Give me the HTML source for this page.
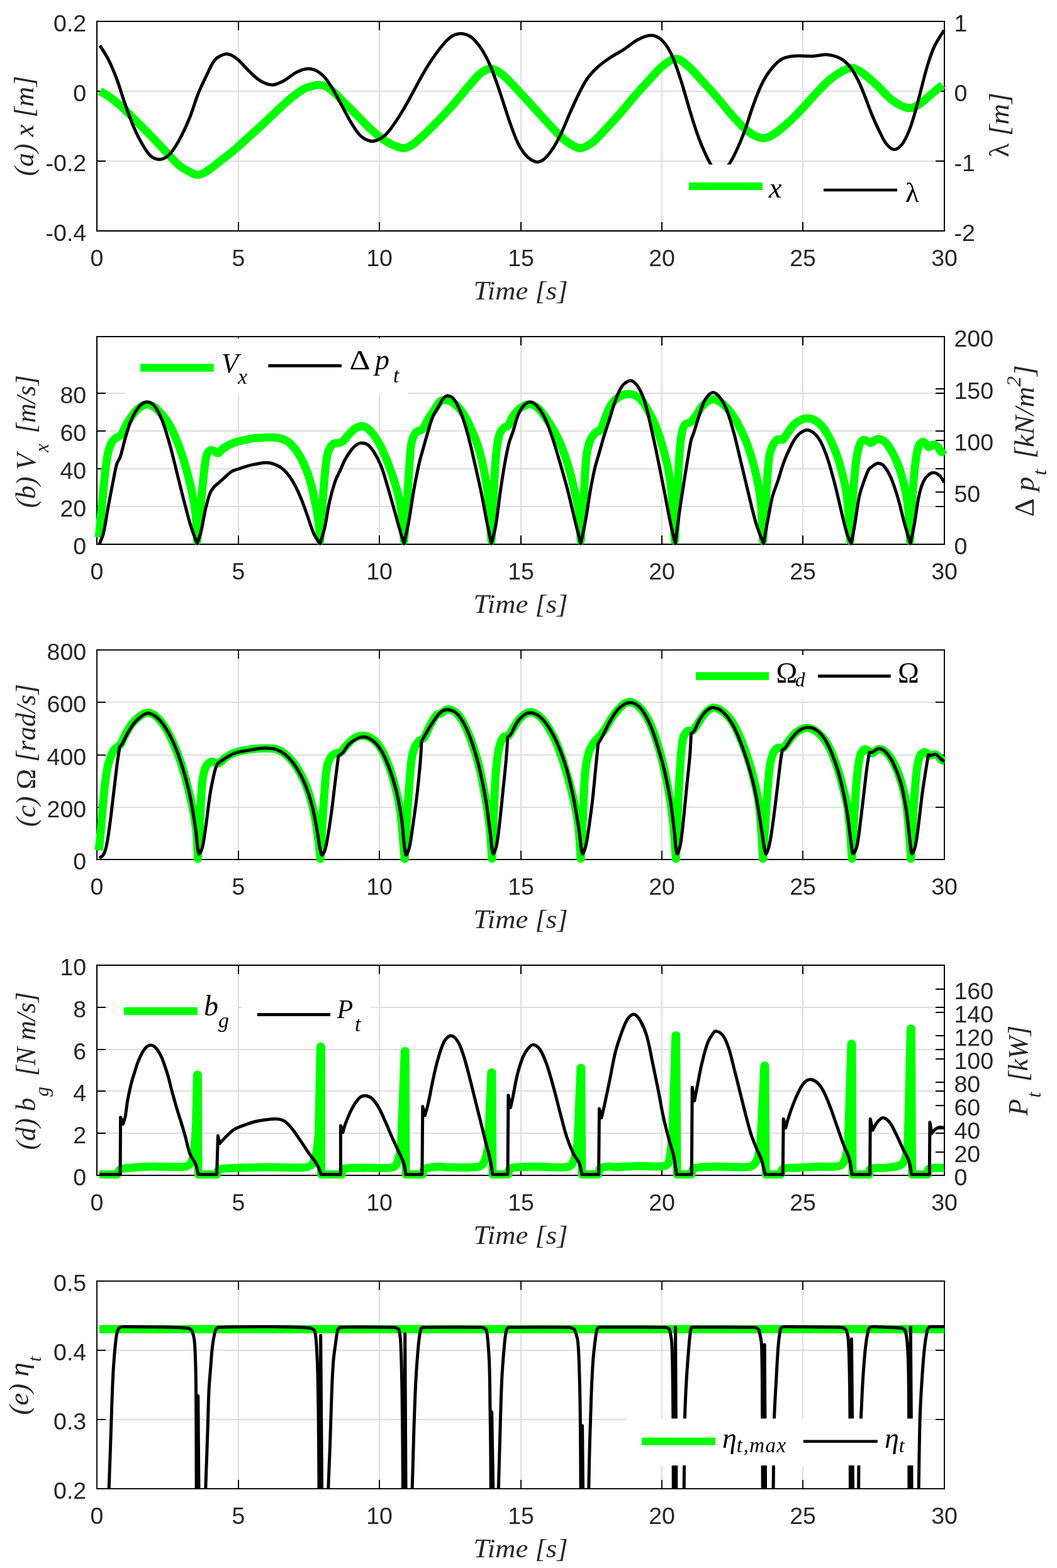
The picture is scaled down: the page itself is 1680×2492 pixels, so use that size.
<!DOCTYPE html>
<html><head><meta charset="utf-8"><title>Figure</title>
<style>
html,body{margin:0;padding:0;background:#fff;overflow:hidden;width:1680px;height:2492px;}
svg{display:block;}
</style></head><body>
<svg width="1680" height="2492" viewBox="0 0 1680 2492">
<rect x="0" y="0" width="1680" height="2492" fill="#fff"/>
<line x1="379" y1="34" x2="379" y2="367" stroke="#dedede" stroke-width="2"/>
<line x1="603" y1="34" x2="603" y2="367" stroke="#dedede" stroke-width="2"/>
<line x1="828" y1="34" x2="828" y2="367" stroke="#dedede" stroke-width="2"/>
<line x1="1052" y1="34" x2="1052" y2="367" stroke="#dedede" stroke-width="2"/>
<line x1="1276" y1="34" x2="1276" y2="367" stroke="#dedede" stroke-width="2"/>
<line x1="154" y1="145" x2="1501" y2="145" stroke="#dedede" stroke-width="2"/>
<line x1="154" y1="256" x2="1501" y2="256" stroke="#dedede" stroke-width="2"/>
<path d="M154 367 V353 M154 34 V48 M379 367 V353 M379 34 V48 M603 367 V353 M603 34 V48 M828 367 V353 M828 34 V48 M1052 367 V353 M1052 34 V48 M1276 367 V353 M1276 34 V48 M1501 367 V353 M1501 34 V48 M154 34 H168 M1501 34 H1487 M154 145 H168 M1501 145 H1487 M154 256 H168 M1501 256 H1487 M154 367 H168 M1501 367 H1487 M1501 34 H1487 M1501 145 H1487 M1501 256 H1487 M1501 367 H1487" stroke="#000" stroke-width="2" fill="none"/>
<rect x="154" y="34" width="1347" height="333" stroke="#000" stroke-width="2" fill="none"/>
<text x="137.2" y="49.9" font-size="37.5" text-anchor="end" style="font-family:'Liberation Sans', Arial, sans-serif;" fill="#262626" >0.2</text>
<text x="137.2" y="160.9" font-size="37.5" text-anchor="end" style="font-family:'Liberation Sans', Arial, sans-serif;" fill="#262626" >0</text>
<text x="137.2" y="271.9" font-size="37.5" text-anchor="end" style="font-family:'Liberation Sans', Arial, sans-serif;" fill="#262626" >-0.2</text>
<text x="137.2" y="382.9" font-size="37.5" text-anchor="end" style="font-family:'Liberation Sans', Arial, sans-serif;" fill="#262626" >-0.4</text>
<text x="1516.5" y="49.9" font-size="37.5" text-anchor="start" style="font-family:'Liberation Sans', Arial, sans-serif;" fill="#262626" >1</text>
<text x="1516.5" y="160.9" font-size="37.5" text-anchor="start" style="font-family:'Liberation Sans', Arial, sans-serif;" fill="#262626" >0</text>
<text x="1516.5" y="271.9" font-size="37.5" text-anchor="start" style="font-family:'Liberation Sans', Arial, sans-serif;" fill="#262626" >-1</text>
<text x="1516.5" y="382.9" font-size="37.5" text-anchor="start" style="font-family:'Liberation Sans', Arial, sans-serif;" fill="#262626" >-2</text>
<text x="154" y="423.3" font-size="37.5" text-anchor="middle" style="font-family:'Liberation Sans', Arial, sans-serif;" fill="#262626" >0</text>
<text x="379" y="423.3" font-size="37.5" text-anchor="middle" style="font-family:'Liberation Sans', Arial, sans-serif;" fill="#262626" >5</text>
<text x="603" y="423.3" font-size="37.5" text-anchor="middle" style="font-family:'Liberation Sans', Arial, sans-serif;" fill="#262626" >10</text>
<text x="828" y="423.3" font-size="37.5" text-anchor="middle" style="font-family:'Liberation Sans', Arial, sans-serif;" fill="#262626" >15</text>
<text x="1052" y="423.3" font-size="37.5" text-anchor="middle" style="font-family:'Liberation Sans', Arial, sans-serif;" fill="#262626" >20</text>
<text x="1276" y="423.3" font-size="37.5" text-anchor="middle" style="font-family:'Liberation Sans', Arial, sans-serif;" fill="#262626" >25</text>
<text x="1501" y="423.3" font-size="37.5" text-anchor="middle" style="font-family:'Liberation Sans', Arial, sans-serif;" fill="#262626" >30</text>
<text x="827.5" y="476.4" font-size="42.5" text-anchor="middle" textLength="150" lengthAdjust="spacingAndGlyphs" style="font-family:'Liberation Serif',serif;font-style:italic" fill="#262626">Time [s]</text>
<clipPath id="clipa"><rect x="150" y="20" width="1370" height="241.6"/><rect x="150" y="20" width="940" height="360"/><rect x="1200" y="20" width="320" height="360"/></clipPath>
<path d="M158.9 145 C163.4 147.6 168.1 149.8 172.3 152.8 C180 158.3 187.5 164.3 194.6 170.6 C202.4 177.7 209.5 185.5 217 193 C224.4 200.4 232 207.8 239.3 215.3 C246.8 223 254.2 230.9 261.6 238.7 C269 246.5 275.8 255.1 283.9 262.1 C289.2 266.7 295.6 270.1 301.8 273.3 C305.7 275.3 310 278 314.1 277.8 C318.9 277.6 324.2 274.9 328.6 272.2 C336.5 267.4 343.5 261.1 350.9 255.4 C358.4 249.6 366 243.8 373.2 237.6 C380.8 231.1 388.1 224.2 395.5 217.5 C403 210.8 410.5 204.2 417.9 197.4 C425.4 190.4 432.7 183.2 440.2 176.2 C447.5 169.4 454.8 162.5 462.5 156.1 C468.2 151.3 474.2 146.7 480.4 142.7 C483.3 140.8 486.7 139.4 490 138.5 C495.8 136.8 502 134.6 507.9 134.9 C513.2 135.2 519.1 137.4 523.5 140.5 C531.7 146.3 538.5 154.5 545.8 161.7 C553.3 169 560.7 176.6 568.1 184 C575.5 191.4 582.6 199.3 590.4 206.3 C597.5 212.7 604.9 218.9 612.8 224.2 C617.6 227.4 623 230 628.4 232 C633 233.7 638.2 235.9 642.9 235.4 C647.9 234.8 653.1 231.8 657.4 228.7 C665.4 222.9 672.4 215.5 679.7 208.6 C687.3 201.4 694.7 193.9 702 186.3 C709.6 178.3 717.1 170.1 724.4 161.7 C732 152.9 739 143.6 746.7 134.9 C752.4 128.4 757.8 121.1 764.6 115.9 C769 112.5 775.1 108.8 780.2 109.2 C786.2 109.6 792.8 114.2 798 118.2 C806.2 124.6 813.1 132.9 820.4 140.5 C827.1 147.4 833.5 154.6 840 161.7 C844.1 166.2 848.2 170.6 852.3 175.1 C859.7 183.3 867 191.6 874.6 199.6 C881.9 207.2 888.7 215.7 897 222 C904.3 227.6 913.2 234.6 921.5 235.4 C928.1 236 935.8 230.7 941.6 226.4 C949.9 220.3 956.6 211.7 963.9 204.1 C971.5 196.1 979 187.9 986.2 179.6 C993.9 170.8 1001 161.6 1008.6 152.8 C1015.9 144.4 1023.4 136.3 1030.9 128.2 C1038.2 120.3 1044.9 111.4 1053.2 104.8 C1059.4 99.9 1067.4 93.6 1074.4 93.6 C1080.8 93.6 1087.8 100.1 1093.4 104.8 C1101.6 111.7 1108.4 120.3 1115.7 128.2 C1123.2 136.3 1130.7 144.5 1138 152.8 C1145.6 161.6 1152.7 170.9 1160.4 179.6 C1167.8 188 1175.2 196.5 1183.4 204.1 C1188.1 208.4 1193.4 212.5 1199 215.3 C1203.8 217.7 1209.5 220.1 1214.6 219.7 C1220 219.3 1225.6 216.1 1230.3 213 C1238.2 207.9 1245.5 201.5 1252.6 195.2 C1260.4 188.2 1267.7 180.5 1274.9 172.9 C1282.5 164.9 1289.6 156.3 1297.2 148.3 C1304.5 140.7 1311.6 132.8 1319.6 126 C1325.7 120.9 1332.5 116.2 1339.6 112.6 C1344.4 110.2 1350.3 107.6 1355.3 108.1 C1360.7 108.7 1366.2 112.6 1370.9 115.9 C1378.8 121.5 1386 128.3 1393.2 134.9 C1400.9 142 1407.5 150.5 1415.5 157.2 C1420.9 161.7 1427.1 165.5 1433.4 168.4 C1437.5 170.3 1442.4 172.1 1446.8 171.7 C1451.4 171.3 1456.2 168.8 1460.2 166.2 C1466.6 162.1 1472.1 156.6 1478 151.7 C1484.7 146.1 1491.4 140.5 1498.1 134.9" stroke="#00ff00" stroke-width="13" fill="none" stroke-linejoin="round" />
<path d="M158.9 72.4 C163.4 79.8 168.4 87 172.3 94.7 C177.4 104.8 181.7 115.4 185.7 126 C190.7 139.2 194.4 152.9 199.1 166.2 C203.3 178.2 207.5 190.2 212.5 201.9 C216.4 211.1 220.9 220.1 225.9 228.7 C229.8 235.3 233.7 242.7 239.3 247.6 C243 250.9 249 253.4 253.8 253.2 C258.7 253 264.6 250.1 268.3 246.5 C274.6 240.4 279.5 232.1 283.9 224.2 C290.7 212 296.5 199.1 301.8 186.2 C306.9 173.8 310.2 160.7 315.2 148.3 C319.2 138.4 323.8 128.8 328.6 119.3 C332.8 111 335.9 101.2 342 94.7 C346.3 90.1 353.8 86.2 359.8 85.8 C364.9 85.5 371 89.2 375.4 92.5 C382.9 98.1 388.6 106.1 395.5 112.6 C401.3 118 406.7 124.2 413.4 128.2 C419 131.6 426.1 134.9 432.4 134.9 C438.7 134.9 445.4 131.2 451.3 128.2 C458.4 124.5 464.3 118.4 471.4 114.8 C476.9 112 483.3 109.6 489.3 109.2 C494 108.9 499.2 110.4 503.4 112.6 C508.4 115.3 513 119.4 516.8 123.8 C522 129.8 526.1 136.9 530.2 143.8 C535 151.8 539.1 160.2 543.6 168.4 C548.1 176.6 552.2 185 557 193 C561.1 199.9 565.4 206.8 570.4 213 C572.8 216 575.9 218.7 579.3 220.5 C583 222.5 587.5 224.3 591.6 224.4 C595.7 224.4 600.1 222.8 603.8 220.8 C607.9 218.6 611.7 215.3 615 211.9 C618.8 208 621.8 203.4 625 199 C628.5 194.1 631.9 189.1 635.1 184 C640.5 175.2 645.7 166.2 650.7 157.2 C656.1 147.6 660.9 137.8 666.3 128.2 C671.4 119.2 676.3 110.1 682 101.4 C688.2 91.8 694.8 82.3 702 73.5 C706.7 67.8 711.7 61.8 717.7 57.9 C722.1 55.1 728.2 53.2 733.3 53.4 C738.6 53.6 744.6 55.8 748.9 59 C755.1 63.6 760.1 70.4 764.6 76.9 C769.8 84.5 774 93 777.9 101.4 C782.2 110.8 785.6 120.6 789.1 130.4 C793.1 141.5 796.6 152.7 800.3 163.9 C804 175.1 807.4 186.3 811.4 197.4 C814.9 207.2 818.3 217 822.6 226.4 C825 231.7 828.1 236.8 831.5 241.5 C834.3 245.3 837.5 249.1 841.2 251.8 C844.8 254.4 849.3 257.3 853.4 257.4 C857.5 257.4 862.4 254.9 865.7 252.1 C871 247.6 875.2 241.4 879.1 235.4 C884.2 227.6 888.5 219.2 892.5 210.8 C897.4 200.6 901.3 189.9 905.9 179.6 C910.2 169.8 914.5 160 919.3 150.5 C923.5 142.2 927.5 133.6 932.7 126 C937.1 119.5 942.6 113.5 948.3 108.1 C954.5 102.3 961.4 97.3 968.4 92.5 C975.5 87.6 983.4 83.8 990.7 79.1 C998.3 74.2 1005.1 67.8 1013 63.5 C1019.2 60.2 1026.4 56.7 1033.1 56.3 C1038.3 56 1044.5 58.2 1048.8 61.2 C1054.1 65.1 1058.6 71.1 1062.1 76.9 C1066.7 84.5 1070.1 93 1073.3 101.4 C1077.5 112.4 1081 123.7 1084.5 134.9 C1088.4 147.5 1091.8 160.3 1095.6 172.9 C1099.2 184.8 1102.7 196.8 1106.8 208.6 C1110.2 218.4 1113.8 228.1 1118 237.6 C1121.6 245.9 1125.3 254.4 1130.2 262 C1134 267.9 1139.4 278 1144 278 C1148.7 278 1154 267.8 1158.1 262 C1162.5 255.8 1166 248.9 1169.3 242 C1174.5 231.1 1179.2 219.9 1183.4 208.6 C1188.3 195.4 1192 181.7 1196.8 168.4 C1200.9 157.1 1205 145.7 1210.2 134.9 C1213.9 127.1 1218.3 119.4 1223.6 112.6 C1228.7 106 1234.6 99.2 1241.4 94.7 C1246.5 91.4 1253.2 89.9 1259.3 89.2 C1270.3 88 1281.7 89.7 1292.8 89.2 C1300.3 88.9 1307.8 86.3 1315.1 86.9 C1321.9 87.4 1329.2 89.3 1335.2 92.5 C1341.1 95.6 1346.5 100.6 1350.8 105.9 C1356.2 112.5 1360.3 120.5 1364.2 128.2 C1368.5 136.8 1371.8 146 1375.4 155 C1379.2 164.6 1382.5 174.4 1386.5 184 C1390 192.3 1393.7 200.5 1397.7 208.6 C1401.1 215.4 1404.1 222.9 1408.8 228.7 C1411.9 232.5 1416.9 237.4 1421.1 237.6 C1425.1 237.8 1430.4 233.5 1433.4 229.8 C1438.3 223.8 1441.5 215.9 1444.6 208.6 C1448.2 199.9 1450.8 190.8 1453.5 181.8 C1456.8 170.7 1459.4 159.5 1462.4 148.3 C1466.1 134.2 1469.4 119.9 1473.6 105.9 C1476.8 95.3 1480.1 84.6 1484.7 74.6 C1489 65.3 1495.2 56.8 1500.4 47.9" stroke="#000" stroke-width="5" fill="none" stroke-linejoin="round" clip-path="url(#clipa)"/>
<line x1="1095" y1="296" x2="1212" y2="296" stroke="#00ff00" stroke-width="12"/>
<text x="1222" y="313.5" font-size="46" text-anchor="start" style="font-family:'Liberation Serif', 'Times New Roman', serif;font-style:italic;" fill="#000" >x</text>
<line x1="1309" y1="302" x2="1426" y2="302" stroke="#000" stroke-width="4.6"/>
<text x="1439" y="321" font-size="45" text-anchor="start" style="font-family:'Liberation Serif', 'Times New Roman', serif;" fill="#000" >λ</text>
<text transform="translate(52.6,200.2) rotate(-90)" font-size="44" text-anchor="middle" textLength="159" lengthAdjust="spacingAndGlyphs" style="font-family:'Liberation Serif',serif;font-style:italic" fill="#262626">(a) x [m]</text>
<text transform="translate(1603,198.5) rotate(-90)" font-size="44" text-anchor="middle" textLength="103" lengthAdjust="spacingAndGlyphs" style="font-family:'Liberation Serif',serif;font-style:italic" fill="#262626"><tspan style="font-style:normal">λ</tspan> [m]</text>
<line x1="379" y1="535" x2="379" y2="865" stroke="#dedede" stroke-width="2"/>
<line x1="603" y1="535" x2="603" y2="865" stroke="#dedede" stroke-width="2"/>
<line x1="828" y1="535" x2="828" y2="865" stroke="#dedede" stroke-width="2"/>
<line x1="1052" y1="535" x2="1052" y2="865" stroke="#dedede" stroke-width="2"/>
<line x1="1276" y1="535" x2="1276" y2="865" stroke="#dedede" stroke-width="2"/>
<line x1="154" y1="805" x2="1501" y2="805" stroke="#dedede" stroke-width="2"/>
<line x1="154" y1="745" x2="1501" y2="745" stroke="#dedede" stroke-width="2"/>
<line x1="154" y1="685" x2="1501" y2="685" stroke="#dedede" stroke-width="2"/>
<line x1="154" y1="625" x2="1501" y2="625" stroke="#dedede" stroke-width="2"/>
<path d="M154 865 V851 M154 535 V549 M379 865 V851 M379 535 V549 M603 865 V851 M603 535 V549 M828 865 V851 M828 535 V549 M1052 865 V851 M1052 535 V549 M1276 865 V851 M1276 535 V549 M1501 865 V851 M1501 535 V549 M154 865 H168 M1501 865 H1487 M154 805 H168 M1501 805 H1487 M154 745 H168 M1501 745 H1487 M154 685 H168 M1501 685 H1487 M154 625 H168 M1501 625 H1487 M1501 865 H1487 M1501 782 H1487 M1501 700 H1487 M1501 618 H1487 M1501 535 H1487" stroke="#000" stroke-width="2" fill="none"/>
<rect x="154" y="535" width="1347" height="330" stroke="#000" stroke-width="2" fill="none"/>
<text x="137.2" y="880.9" font-size="37.5" text-anchor="end" style="font-family:'Liberation Sans', Arial, sans-serif;" fill="#262626" >0</text>
<text x="137.2" y="820.9" font-size="37.5" text-anchor="end" style="font-family:'Liberation Sans', Arial, sans-serif;" fill="#262626" >20</text>
<text x="137.2" y="760.9" font-size="37.5" text-anchor="end" style="font-family:'Liberation Sans', Arial, sans-serif;" fill="#262626" >40</text>
<text x="137.2" y="700.9" font-size="37.5" text-anchor="end" style="font-family:'Liberation Sans', Arial, sans-serif;" fill="#262626" >60</text>
<text x="137.2" y="640.9" font-size="37.5" text-anchor="end" style="font-family:'Liberation Sans', Arial, sans-serif;" fill="#262626" >80</text>
<text x="1516.5" y="880.9" font-size="37.5" text-anchor="start" style="font-family:'Liberation Sans', Arial, sans-serif;" fill="#262626" >0</text>
<text x="1516.5" y="797.9" font-size="37.5" text-anchor="start" style="font-family:'Liberation Sans', Arial, sans-serif;" fill="#262626" >50</text>
<text x="1516.5" y="715.9" font-size="37.5" text-anchor="start" style="font-family:'Liberation Sans', Arial, sans-serif;" fill="#262626" >100</text>
<text x="1516.5" y="633.9" font-size="37.5" text-anchor="start" style="font-family:'Liberation Sans', Arial, sans-serif;" fill="#262626" >150</text>
<text x="1516.5" y="550.9" font-size="37.5" text-anchor="start" style="font-family:'Liberation Sans', Arial, sans-serif;" fill="#262626" >200</text>
<text x="154" y="921.3" font-size="37.5" text-anchor="middle" style="font-family:'Liberation Sans', Arial, sans-serif;" fill="#262626" >0</text>
<text x="379" y="921.3" font-size="37.5" text-anchor="middle" style="font-family:'Liberation Sans', Arial, sans-serif;" fill="#262626" >5</text>
<text x="603" y="921.3" font-size="37.5" text-anchor="middle" style="font-family:'Liberation Sans', Arial, sans-serif;" fill="#262626" >10</text>
<text x="828" y="921.3" font-size="37.5" text-anchor="middle" style="font-family:'Liberation Sans', Arial, sans-serif;" fill="#262626" >15</text>
<text x="1052" y="921.3" font-size="37.5" text-anchor="middle" style="font-family:'Liberation Sans', Arial, sans-serif;" fill="#262626" >20</text>
<text x="1276" y="921.3" font-size="37.5" text-anchor="middle" style="font-family:'Liberation Sans', Arial, sans-serif;" fill="#262626" >25</text>
<text x="1501" y="921.3" font-size="37.5" text-anchor="middle" style="font-family:'Liberation Sans', Arial, sans-serif;" fill="#262626" >30</text>
<text x="827.5" y="974.4" font-size="42.5" text-anchor="middle" textLength="150" lengthAdjust="spacingAndGlyphs" style="font-family:'Liberation Serif',serif;font-style:italic" fill="#262626">Time [s]</text>
<path d="M157.1 854.1 C158.9 835.4 160.7 816.6 162.5 797.9 C164.3 780 165.7 762.1 167.9 744.3 C169 735.3 170.1 726.2 172.3 717.5 C173.7 711.9 175.7 706.2 178.6 701.4 C180.2 698.8 183.2 697.1 185.7 695.2 C188 693.5 191.2 692.9 192.9 690.7 C196 686.6 197.4 681 200 676.4 C202.7 671.5 205.6 666.6 208.9 662.1 C212.1 657.7 215.4 653 219.6 649.6 C223.5 646.5 228.4 642.8 233 642.5 C237.4 642.2 242.5 645.3 246.4 647.9 C250.5 650.6 253.8 654.8 257.1 658.6 C261 663.1 264.8 667.8 267.9 672.9 C272 679.7 275.5 687 278.6 694.3 C282.6 703.6 286.1 713.2 289.3 722.9 C292.6 732.9 295.5 743 298.2 753.2 C300.9 763.3 303.4 773.4 305.4 783.6 C307.5 794.2 309.6 804.9 310.7 815.7 C312.2 830.2 313.4 859.5 313.4 859.5 C313.4 859.5 317.5 818.4 319.6 797.9 C321.4 780 322.9 762.1 325 744.3 C325.9 737.1 326.5 729.6 328.6 722.9 C329.5 720.1 331.7 716.9 334 715.7 C335.6 714.8 338.3 715.9 340.2 716.6 C342.4 717.4 344.5 720.8 346.4 720.2 C349.6 719.3 352 714.2 355.4 712.1 C361 708.6 367 705.5 373.2 703.2 C378.9 701.1 385.1 699.9 391.1 698.8 C397 697.6 402.9 696.5 408.9 696.1 C418.5 695.4 428.4 694.5 437.9 695.5 C444 696.1 450.6 697.7 455.7 700.8 C461.3 704.2 466 709.6 470 714.9 C474.9 721.4 479 728.8 482.5 736.3 C486.8 745.6 490.3 755.3 493.2 765.1 C496.2 775.2 498.2 785.6 500.4 795.9 C502.4 805.4 504.4 815 505.7 824.6 C507.2 836.2 508.8 859.5 508.8 859.5 C508.8 859.5 511.4 818.4 512.9 797.9 C514.2 780 515.3 762.1 517.3 744.3 C518.3 735.3 519.2 726 521.8 717.5 C523.1 713.2 525.7 708.6 528.9 705.9 C531.1 704.1 535 704.9 537.9 704.1 C540.3 703.4 543.1 703 545 701.4 C549.1 697.9 551.9 692.9 555.7 688.9 C558.5 686 561.3 683 564.6 680.9 C567.5 679.1 571.2 677.3 574.5 677.3 C577.8 677.3 581.6 678.9 584.3 680.9 C588.4 683.9 591.9 688.3 595 692.5 C599.1 698.1 602.6 704.2 605.7 710.4 C609.7 718.5 613.1 727 616.4 735.4 C620.3 745.4 624 755.4 627.1 765.7 C630.6 777.4 634.1 789.3 636.1 801.4 C639.2 820.6 642.3 859.5 642.3 859.5 C642.3 859.5 645.4 818.4 646.8 797.9 C648.1 780 649 762.2 650.4 744.3 C651.4 731.2 651.5 717.8 653.9 705 C655.1 698.7 657.4 691.9 661.1 687.1 C663.4 684.1 669.2 684.6 671.8 681.8 C675.8 677.5 677.5 670.9 680.7 665.7 C684 660.2 687.7 654.9 691.4 649.6 C694.4 645.3 696.8 639.8 700.7 637.1 C703.4 635.3 708.1 635.2 711.4 636.1 C716.4 637.6 721.7 640.7 725.7 644.3 C730.6 648.8 734.6 654.6 738.2 660.4 C742.4 667.1 745.7 674.5 748.9 681.8 C752.8 690.6 756.7 699.4 759.6 708.6 C763.3 720.3 766.2 732.3 768.6 744.3 C771.6 759 774.1 773.9 775.7 788.9 C778.2 812.3 781.1 859.5 781.1 859.5 C781.1 859.5 783.3 812.4 784.6 788.9 C785.7 768.1 786.3 747.2 788.2 726.4 C789.3 714.4 790.5 702.1 793.6 690.7 C794.7 686.6 797.8 682.9 800.7 680 C802.5 678.2 806.3 678.4 807.9 676.4 C811.1 672.4 812.1 666.5 815 662.1 C818 657.6 821.4 652.8 825.7 649.6 C830.3 646.2 836.5 642.5 841.8 642.5 C846.6 642.5 852.2 646.2 856.1 649.6 C861.1 653.9 864.7 660.1 868.6 665.7 C873 672.1 877.4 678.6 881.1 685.4 C885.8 694 890 703 893.6 712.1 C897.7 722.6 901.2 733.4 904.3 744.3 C907.7 756.1 910.5 768 913.2 780 C915.9 791.8 918.9 803.7 920.4 815.7 C922.2 830.2 923 859.5 923 859.5 C923 859.5 926.1 818.4 927.5 797.9 C929.1 774.1 929.4 750.1 932 726.4 C932.9 717.3 935 708 938.2 699.6 C940 694.9 943.6 690.6 947.1 687.1 C948.9 685.3 952.9 685.7 954.3 683.6 C957.7 678.6 958.9 671.6 961.4 665.7 C964.4 658.5 966.5 650.7 970.7 644.3 C974.4 638.8 979.4 633.2 985 630 C989.8 627.2 996.5 625.8 1002 626.4 C1007.2 627 1013.1 630 1017.1 633.6 C1022.3 638.3 1026 645.2 1029.6 651.4 C1034.3 659.4 1038.6 667.8 1042.1 676.4 C1046.4 686.9 1049.7 697.7 1052.9 708.6 C1056.3 720.4 1059.4 732.3 1061.8 744.3 C1064.1 756.1 1066 768 1067.1 780 C1069.6 806.4 1072.5 859.5 1072.5 859.5 C1072.5 859.5 1075 818.4 1076.1 797.9 C1077.4 774.1 1078 750.2 1079.6 726.4 C1080.4 714.5 1081.2 702.4 1083.2 690.7 C1084.2 685.2 1085.6 678.8 1088.6 674.6 C1090.3 672.2 1095.1 673 1097.5 671.1 C1101 668.3 1103.7 664.1 1106.4 660.4 C1110.2 655.2 1112.6 648.7 1117.1 644.3 C1121.5 640 1127.7 634.8 1133.2 634.5 C1138.4 634.2 1144.7 638.8 1149.3 642.5 C1154.8 646.9 1159.4 652.8 1163.6 658.6 C1168.4 665.3 1172.4 672.6 1176.1 680 C1180.7 689.3 1185.1 698.8 1188.6 708.6 C1192.8 720.3 1196.4 732.2 1199.3 744.3 C1202.9 759 1206.5 773.9 1208.2 788.9 C1210.9 812.3 1212.7 859.5 1212.7 859.5 C1212.7 859.5 1215.6 818.4 1217.1 797.9 C1218.9 774.1 1219.6 750 1222.5 726.4 C1223.2 720.3 1225.5 714.3 1227.9 708.6 C1229.2 705.5 1231.2 702.3 1233.6 700 C1234.9 698.7 1237.1 698.1 1238.9 697.9 C1240.6 697.7 1243 699.7 1244.3 698.8 C1247.2 696.7 1249 692.2 1251.4 688.9 C1254.9 684.1 1257.9 678.7 1262.1 674.6 C1265.1 671.6 1269.1 669.3 1272.9 667.5 C1275.9 666.1 1279.4 664.7 1282.7 664.8 C1287.2 665 1292.2 666.1 1296.1 668.4 C1300.9 671.2 1305.1 675.6 1308.6 680 C1312.9 685.4 1316.2 691.7 1319.3 697.9 C1323.3 706 1327 714.4 1330 722.9 C1333.5 732.8 1336.4 743 1338.9 753.2 C1341.8 765 1344.7 776.9 1346.1 788.9 C1348.9 812.3 1351.4 859.5 1351.4 859.5 C1351.4 859.5 1353.5 818.4 1355 797.9 C1356.5 777 1357.9 756.1 1360.4 735.4 C1361.5 726.4 1363.1 717.2 1365.7 708.6 C1366.7 705.3 1368.6 701.2 1371.1 699.6 C1372.8 698.5 1376 699.7 1378.2 700.5 C1380.2 701.2 1381.8 704.2 1383.6 704.1 C1386 703.9 1388.2 700.7 1390.7 699.6 C1392.9 698.6 1395.6 697.5 1397.9 697.9 C1401 698.4 1404.5 700 1406.8 702.3 C1411.1 706.6 1414.5 712.1 1417.5 717.5 C1421.6 724.9 1425.3 732.7 1428.2 740.7 C1431.8 750.6 1434.7 760.8 1437.1 771.1 C1439.8 782.9 1442.1 794.8 1443.4 806.8 C1445.2 824.3 1446.4 859.5 1446.4 859.5 C1446.4 859.5 1448.2 818.4 1449.6 797.9 C1451 777 1452.5 756.1 1455 735.4 C1456.1 726.4 1457.3 716.8 1460.4 708.6 C1461.5 705.8 1465.1 702 1467.5 702.3 C1470.5 702.6 1473.2 709.5 1476.4 710.4 C1478.6 711 1481.2 706.8 1483.6 706.8 C1486 706.8 1488.8 708.7 1490.7 710.4 C1493 712.5 1494.1 717.7 1496.1 718.4 C1497.5 718.9 1499.4 715.5 1501 714" stroke="#00ff00" stroke-width="13" fill="none" stroke-linejoin="round" />
<path d="M158 864.8 C160.1 859.2 162.9 853.7 164.3 847.9 C167.4 835 169 821.7 171.4 808.6 C173.7 796.1 176.1 783.5 178.6 771 C180.9 759.7 182.6 748.1 185.7 737.1 C186.8 733.3 189.8 730.2 191.1 726.4 C194 717.7 195.6 708.5 198.2 699.6 C201 690 203.5 680.4 207.1 671.1 C209.5 664.9 212.6 658.8 216.1 653.2 C218.5 649.3 221.5 645.3 225 642.5 C227.4 640.6 230.9 638.9 233.9 638.9 C236.9 638.9 240.6 640.4 242.9 642.5 C246.6 645.8 249.4 650.5 251.8 655 C255.4 661.8 258.2 669.1 260.7 676.4 C264.7 688.1 268.1 700.1 271.4 712.1 C275.3 726.3 278.5 740.7 282.1 755 C285.7 769.3 289.2 783.6 292.9 797.9 C296.3 811 299.6 824.2 303.6 837.1 C306.4 846.2 313.4 863.9 313.4 863.9 C313.4 863.9 318 851 319.6 844.3 C322.5 832.5 324 820.4 326.8 808.6 C328.8 800.2 330.7 791.6 333.9 783.6 C335.5 779.7 338.4 776.2 341.1 772.9 C342.6 771.1 344.7 769.9 346.4 768.4 C349.4 765.8 352.4 763 355.4 760.4 C359.5 756.8 363.3 752.4 367.9 749.6 C372.2 747 377.3 745.9 382.1 744.3 C388 742.3 393.9 740.3 400 738.9 C406.6 737.4 413.3 735.8 420 735.4 C424.7 735.2 429.9 735.5 434.3 737.1 C440 739.1 445.9 742.1 450.4 746.1 C456 751 460.6 757.5 464.6 763.9 C469.5 771.8 473.4 780.4 477.1 788.9 C481.2 798.2 484.4 807.9 487.9 817.5 C491.6 827.6 494.2 838.2 498.6 847.9 C501.2 853.6 508.8 863.9 508.8 863.9 C508.8 863.9 514.4 846.2 516.4 837.1 C519.3 824.2 520.7 810.8 523.6 797.9 C526 787 528.9 776.2 532.5 765.7 C534.8 758.9 538.5 752.6 541.4 746.1 C543.8 740.7 545.8 735.1 548.6 730 C551.7 724.4 555.3 718.9 559.3 713.9 C561.8 710.8 564.9 707.9 568.2 705.9 C570.3 704.6 573 704 575.4 704.1 C578.4 704.3 581.9 705 584.3 706.8 C588.5 710 592.1 714.7 595 719.3 C599.2 726 602.8 733.3 605.7 740.7 C610 751.7 613 763.3 616.4 774.6 C620.1 787.1 623.6 799.6 627.1 812.1 C630.1 822.8 633 833.6 636.1 844.3 C638 850.9 642.3 863.9 642.3 863.9 C642.3 863.9 648 837.8 650.4 824.6 C653.1 809.8 654.8 794.8 657.5 780 C660.2 765.1 663.1 750.2 666.4 735.4 C667.9 728.8 670 722.3 671.8 715.7 C674.1 707.4 676.4 699 678.9 690.7 C681.8 681.1 684.1 671.3 687.9 662.1 C690.2 656.4 694 651.4 697.1 646.1 C699.5 641.9 701.2 637.1 704.3 633.6 C706.3 631.4 709.7 628.8 712.3 629.1 C715.6 629.4 719.9 632.4 722.1 635.4 C726.7 641.6 730 649.4 732.9 656.8 C737.2 667.8 740.5 679.3 743.6 690.7 C747.6 705.5 750.9 720.5 754.3 735.4 C758 751.4 761.7 767.5 765 783.6 C768.2 799 770.8 814.6 773.9 830 C776.2 841.3 781.1 863.9 781.1 863.9 C781.1 863.9 786.5 843.8 788.2 833.6 C791.2 815.8 792.8 797.8 795.4 780 C797.6 765.1 799.9 750.2 802.5 735.4 C804.3 725.2 806.2 715 808.8 705 C810.3 698.9 813 693.1 815 687.1 C818.1 677.6 820.1 667.7 823.9 658.6 C826.1 653.4 829.1 648.3 832.9 644.3 C835.4 641.7 839.4 638.9 842.7 638.9 C846 638.9 850 641.7 852.5 644.3 C857.4 649.4 861.8 655.7 865 662.1 C870.1 672.3 873.8 683.4 877.5 694.3 C882.1 707.8 886 721.7 890 735.4 C894.3 750.2 898.6 765.1 902.5 780 C906.3 794.8 909.6 809.7 913.2 824.6 C916.4 837.7 923 863.9 923 863.9 C923 863.9 928.7 837.8 931.1 824.6 C933.8 809.8 935.6 794.8 938.2 780 C940.3 768.1 942.6 756.1 945.4 744.3 C947.4 735.9 950.1 727.6 952.5 719.3 C954.9 711 957.1 702.6 959.6 694.3 C962.5 684.7 965.8 675.2 968.9 665.7 C971.9 656.2 974.4 646.4 977.9 637.1 C980.9 629.2 983.7 620.5 988.6 613.9 C991.7 609.8 997.6 605 1002 605 C1006 605 1010.9 610 1013.6 613.9 C1018.3 620.7 1021.7 629 1024.3 637.1 C1028.8 651.1 1031.7 665.6 1035 680 C1038.8 696.6 1042.3 713.3 1045.7 730 C1049.4 747.8 1052.9 765.7 1056.4 783.6 C1059.4 799.1 1062.1 814.6 1065.4 830 C1067.8 841.4 1073.4 863.9 1073.4 863.9 C1073.4 863.9 1077.4 831.7 1079.6 815.7 C1081.2 803.8 1083.1 791.9 1085 780 C1087.3 765.1 1089.6 750.2 1092.1 735.4 C1094.1 723.4 1095.8 711.4 1098.4 699.6 C1099.4 695.3 1101.5 691.3 1102.9 687.1 C1106 677.6 1108.6 668 1111.8 658.6 C1114.5 650.8 1116.5 642.3 1120.7 635.4 C1123.6 630.7 1128.9 624.1 1133.2 623.8 C1137.2 623.5 1142.6 629.4 1145.7 633.6 C1150.3 639.9 1153.6 647.6 1156.4 655 C1160.7 666.6 1163.9 678.7 1167.1 690.7 C1171.1 705.5 1174.3 720.5 1177.9 735.4 C1181.5 750.3 1185 765.2 1188.6 780 C1192.7 796.7 1196.2 813.6 1201.1 830 C1204.5 841.5 1213.6 863.9 1213.6 863.9 C1213.6 863.9 1218.2 837.7 1220.7 824.6 C1223 812.7 1224.8 800.6 1227.9 788.9 C1230.3 779.8 1234.2 771.1 1237.1 762.1 C1239.6 754.4 1241.6 746.5 1244.3 738.9 C1246.4 732.9 1248.8 726.9 1251.4 721.1 C1254.7 713.8 1257.9 706.4 1262.1 699.6 C1264.5 695.7 1267.5 691.7 1271.1 688.9 C1274.4 686.4 1278.8 683.6 1282.7 683.6 C1286.6 683.6 1291.2 686.2 1294.3 688.9 C1298.6 692.7 1302.3 698 1305 703.2 C1309.4 711.7 1312.7 720.9 1315.7 730 C1319.8 742.3 1323.1 754.9 1326.4 767.5 C1330.3 782.3 1333.5 797.3 1337.1 812.1 C1340 824.1 1342.5 836.2 1346.1 847.9 C1347.8 853.4 1352.9 863.9 1352.9 863.9 C1352.9 863.9 1356.9 843.7 1358.6 833.6 C1361.1 818.7 1362.6 803.6 1365.7 788.9 C1367.4 781 1370.2 773.3 1372.9 765.7 C1375.3 759.1 1377.5 752.1 1380.9 746.1 C1382.2 743.8 1384.9 742.2 1387.1 740.7 C1389.6 739 1392.4 736.2 1395.2 736.2 C1398.4 736.2 1402.7 738.2 1405 740.7 C1409.5 745.6 1412.9 752.3 1415.7 758.6 C1420 768.3 1423.3 778.6 1426.4 788.9 C1430.5 802.4 1433.4 816.4 1437.1 830 C1440.2 841.4 1447 863.9 1447 863.9 C1447 863.9 1451.4 843.7 1453.2 833.6 C1455.9 818.7 1457.3 803.6 1460.4 788.9 C1462.1 781 1464.2 772.9 1467.5 765.7 C1469.5 761.3 1472.8 757 1476.4 754.1 C1478.7 752.2 1482.6 751 1485.4 751.4 C1488.5 751.9 1491.9 754.4 1494.3 756.8 C1497 759.5 1498.4 763.3 1500.5 766.6" stroke="#000" stroke-width="5" fill="none" stroke-linejoin="round" />
<rect x="199" y="537.5" width="451" height="89" fill="#fff"/>
<line x1="223.2" y1="584.5" x2="339.8" y2="584.5" stroke="#00ff00" stroke-width="12.5"/>
<text x="352" y="591.6" font-size="44" text-anchor="start" style="font-family:'Liberation Serif', 'Times New Roman', serif;font-style:italic;" fill="#000" >V</text>
<text x="378" y="610.4" font-size="34" text-anchor="start" style="font-family:'Liberation Serif', 'Times New Roman', serif;font-style:italic;" fill="#000" >x</text>
<line x1="426.3" y1="581.3" x2="542.9" y2="581.3" stroke="#000" stroke-width="5"/>
<text x="555.5" y="586.8" font-size="45" textLength="33" lengthAdjust="spacingAndGlyphs" style="font-family:'Liberation Serif',serif" fill="#000">Δ</text>
<text x="596" y="587" font-size="46" text-anchor="start" style="font-family:'Liberation Serif', 'Times New Roman', serif;font-style:italic;" fill="#000" >p</text>
<text x="625" y="607.7" font-size="34" text-anchor="start" style="font-family:'Liberation Serif', 'Times New Roman', serif;font-style:italic;" fill="#000" >t</text>
<text transform="translate(56.4,701.7) rotate(-90)" font-size="44" text-anchor="middle" textLength="211" lengthAdjust="spacingAndGlyphs" style="font-family:'Liberation Serif',serif;font-style:italic" fill="#262626">(b) V<tspan dx="2" dy="21" font-size="32">x</tspan><tspan dx="6" dy="-21"> [m/s]</tspan></text>
<text transform="translate(1643,700.7) rotate(-90)" font-size="44" text-anchor="middle" textLength="241" lengthAdjust="spacingAndGlyphs" style="font-family:'Liberation Serif',serif;font-style:italic" fill="#262626"><tspan style="font-style:normal">Δ</tspan> p<tspan dx="2" dy="20" font-size="32">t</tspan><tspan dx="6" dy="-20"> [kN/m</tspan><tspan dy="-21" font-size="32">2</tspan><tspan dy="21">]</tspan></text>
<line x1="379" y1="1033" x2="379" y2="1366" stroke="#dedede" stroke-width="2"/>
<line x1="603" y1="1033" x2="603" y2="1366" stroke="#dedede" stroke-width="2"/>
<line x1="828" y1="1033" x2="828" y2="1366" stroke="#dedede" stroke-width="2"/>
<line x1="1052" y1="1033" x2="1052" y2="1366" stroke="#dedede" stroke-width="2"/>
<line x1="1276" y1="1033" x2="1276" y2="1366" stroke="#dedede" stroke-width="2"/>
<line x1="154" y1="1283" x2="1501" y2="1283" stroke="#dedede" stroke-width="2"/>
<line x1="154" y1="1200" x2="1501" y2="1200" stroke="#dedede" stroke-width="2"/>
<line x1="154" y1="1116" x2="1501" y2="1116" stroke="#dedede" stroke-width="2"/>
<path d="M154 1366 V1352 M154 1033 V1047 M379 1366 V1352 M379 1033 V1047 M603 1366 V1352 M603 1033 V1047 M828 1366 V1352 M828 1033 V1047 M1052 1366 V1352 M1052 1033 V1047 M1276 1366 V1352 M1276 1033 V1047 M1501 1366 V1352 M1501 1033 V1047 M154 1366 H168 M1501 1366 H1487 M154 1283 H168 M1501 1283 H1487 M154 1200 H168 M1501 1200 H1487 M154 1116 H168 M1501 1116 H1487 M154 1033 H168 M1501 1033 H1487" stroke="#111" stroke-width="2" fill="none"/>
<rect x="154" y="1033" width="1347" height="333" stroke="#111" stroke-width="2" fill="none"/>
<text x="137.2" y="1381.9" font-size="37.5" text-anchor="end" style="font-family:'Liberation Sans', Arial, sans-serif;" fill="#262626" >0</text>
<text x="137.2" y="1298.9" font-size="37.5" text-anchor="end" style="font-family:'Liberation Sans', Arial, sans-serif;" fill="#262626" >200</text>
<text x="137.2" y="1215.9" font-size="37.5" text-anchor="end" style="font-family:'Liberation Sans', Arial, sans-serif;" fill="#262626" >400</text>
<text x="137.2" y="1131.9" font-size="37.5" text-anchor="end" style="font-family:'Liberation Sans', Arial, sans-serif;" fill="#262626" >600</text>
<text x="137.2" y="1048.9" font-size="37.5" text-anchor="end" style="font-family:'Liberation Sans', Arial, sans-serif;" fill="#262626" >800</text>
<text x="154" y="1422.3" font-size="37.5" text-anchor="middle" style="font-family:'Liberation Sans', Arial, sans-serif;" fill="#262626" >0</text>
<text x="379" y="1422.3" font-size="37.5" text-anchor="middle" style="font-family:'Liberation Sans', Arial, sans-serif;" fill="#262626" >5</text>
<text x="603" y="1422.3" font-size="37.5" text-anchor="middle" style="font-family:'Liberation Sans', Arial, sans-serif;" fill="#262626" >10</text>
<text x="828" y="1422.3" font-size="37.5" text-anchor="middle" style="font-family:'Liberation Sans', Arial, sans-serif;" fill="#262626" >15</text>
<text x="1052" y="1422.3" font-size="37.5" text-anchor="middle" style="font-family:'Liberation Sans', Arial, sans-serif;" fill="#262626" >20</text>
<text x="1276" y="1422.3" font-size="37.5" text-anchor="middle" style="font-family:'Liberation Sans', Arial, sans-serif;" fill="#262626" >25</text>
<text x="1501" y="1422.3" font-size="37.5" text-anchor="middle" style="font-family:'Liberation Sans', Arial, sans-serif;" fill="#262626" >30</text>
<text x="827.5" y="1475.4" font-size="42.5" text-anchor="middle" textLength="150" lengthAdjust="spacingAndGlyphs" style="font-family:'Liberation Serif',serif;font-style:italic" fill="#262626">Time [s]</text>
<path d="M157.1 1351.4 C158.3 1339.5 159.6 1327.6 160.7 1315.7 C162.3 1297.8 163.4 1279.9 165.2 1262.1 C166.4 1250.2 167.6 1238.2 169.6 1226.4 C170.8 1219.2 172.6 1211.9 175 1205 C176.7 1200 179 1194.9 182.1 1190.7 C184.3 1187.7 188.9 1186.6 191.1 1183.6 C194.2 1179.4 195.6 1174 198.2 1169.3 C201.6 1163.2 204.7 1156.9 208.9 1151.4 C212.4 1146.8 216.7 1142.4 221.4 1138.9 C225.1 1136.2 229.6 1133 233.9 1132.7 C238 1132.4 243 1134.5 246.4 1137.1 C251.9 1141.3 256.7 1147.3 260.7 1153.2 C266.3 1161.6 270.8 1170.8 275 1180 C279.7 1190.4 283.9 1201.2 287.5 1212.1 C291.6 1224.4 295 1237 298.2 1249.6 C301.5 1262.6 304.6 1275.7 307.1 1288.9 C309.4 1300.7 311.4 1312.6 312.5 1324.6 C313.8 1338 314.3 1365 314.3 1365 C314.3 1365 316.8 1326.2 317.9 1306.8 C319.1 1286 319.3 1265 321.4 1244.3 C322.3 1235.8 323.6 1226.9 326.8 1219.3 C328.4 1215.6 332.3 1211.9 335.7 1210.4 C337.7 1209.5 340.5 1211.6 342.9 1212.1 C344.7 1212.5 346.7 1213.7 348.2 1213 C351.5 1211.4 353.8 1207.2 357.1 1205 C362.1 1201.6 367.4 1198 373.2 1196.1 C381.7 1193.3 391 1191.6 400 1190.7 C411.3 1189.5 423.1 1188.6 434.3 1189.8 C439.9 1190.4 445.8 1192.9 450.4 1196.1 C456.5 1200.3 461.8 1206.2 466.4 1212.1 C471.9 1219.3 476.6 1227.3 480.7 1235.4 C485 1243.9 488.5 1253 491.4 1262.1 C495.1 1273.8 498 1285.8 500.4 1297.9 C502.8 1309.7 504.1 1321.7 505.7 1333.6 C507.1 1344 509.3 1365 509.3 1365 C509.3 1365 511 1332.1 512 1315.7 C513.1 1297.8 514 1279.9 515.5 1262.1 C516.7 1247.2 517.2 1232 520 1217.5 C521.1 1211.8 523.9 1206 527.1 1201.4 C528.6 1199.2 531.7 1198 534.3 1197 C536.5 1196.2 539.6 1197.4 541.4 1196.1 C544.3 1194.1 546 1189.9 548.6 1187.1 C552.6 1182.8 556.3 1177.8 561.1 1174.6 C565.2 1171.9 570.6 1169.6 575.4 1169.3 C580.1 1169 585.6 1170.4 589.6 1172.9 C595.1 1176.3 600.3 1181.5 603.9 1187.1 C609.9 1196.4 614.2 1207.1 618.2 1217.5 C622.6 1229.1 625.9 1241.2 628.9 1253.2 C631.8 1265 634.4 1276.9 636.1 1288.9 C638.2 1303.7 639.1 1318.7 640.5 1333.6 C641.5 1344.1 643.2 1365 643.2 1365 C643.2 1365 644.9 1332.1 645.9 1315.7 C647 1297.8 648.2 1280 649.5 1262.1 C650.8 1244.3 651.6 1226.3 653.9 1208.6 C654.9 1201.3 656.6 1193.8 659.3 1187.1 C660.8 1183.4 663.6 1180.1 666.4 1177.3 C668.4 1175.4 672 1175.1 673.6 1172.9 C677.4 1167.7 679.3 1160.8 682.5 1155 C685.8 1148.9 688.9 1142.2 693.2 1137.1 C694.9 1135.1 698.2 1134.9 700.7 1133.6 C704.6 1131.6 708.4 1127.3 712.3 1127.3 C716.7 1127.3 722.2 1130.3 725.7 1133.6 C730.8 1138.4 734.9 1145 738.2 1151.4 C743.2 1161.1 747.1 1171.5 750.7 1181.8 C754.8 1193.5 758.4 1205.4 761.4 1217.5 C765 1232.2 767.7 1247.2 770.4 1262.1 C773.1 1276.9 775.8 1291.8 777.5 1306.8 C779.7 1326.1 782 1365 782 1365 C782 1365 783.6 1320.3 784.6 1297.9 C785.7 1274.1 786.3 1250.2 788.2 1226.4 C789.3 1213.2 790.7 1199.9 793.6 1187.1 C794.9 1181.5 797.4 1175.3 800.7 1171.1 C802.1 1169.3 806.2 1170.8 807.9 1169.3 C810.9 1166.7 812.6 1162.1 815 1158.6 C819.1 1152.6 822.4 1145.6 827.5 1140.7 C831.6 1136.7 837.5 1132.1 842.7 1131.8 C847.6 1131.5 853.8 1135.4 857.9 1138.9 C863.6 1143.7 868.1 1150.3 872.1 1156.8 C877.6 1165.8 882.4 1175.5 886.4 1185.4 C891.3 1197.6 895.1 1210.3 898.9 1222.9 C902.8 1235.9 906.5 1248.9 909.6 1262.1 C913.1 1276.9 916.6 1291.8 918.6 1306.8 C921.1 1326.1 923 1365 923 1365 C923 1365 925.4 1320.3 926.6 1297.9 C927.8 1274.1 928 1250.1 930.2 1226.4 C931.2 1215.6 933.4 1204.7 936.4 1194.3 C937.8 1189.4 940.8 1184.8 943.6 1180.5 C945.5 1177.7 948.3 1175.6 950.5 1173 C953.9 1168.9 957.4 1164.8 960.5 1160.5 C963.2 1156.7 965.3 1152.5 967.8 1148.5 C970.5 1144.2 973.1 1139.8 976.1 1135.7 C978.8 1132 981.9 1128.6 985 1125.3 C987.2 1123 989.4 1120.2 992.1 1118.7 C995 1117 998.9 1115 1002 1115.7 C1007.2 1116.9 1013.1 1120.5 1017.1 1124.6 C1022.9 1130.6 1027.6 1138.4 1031.4 1146.1 C1036.5 1156.3 1040.4 1167.3 1043.9 1178.2 C1048.1 1191.1 1051.5 1204.3 1054.6 1217.5 C1058.1 1232.3 1061.1 1247.2 1063.6 1262.1 C1066.1 1276.9 1068.2 1291.8 1069.8 1306.8 C1071.8 1326.1 1074.3 1365 1074.3 1365 C1074.3 1365 1076 1320.3 1077 1297.9 C1078.1 1274.1 1078.9 1250.2 1080.5 1226.4 C1081.6 1209.7 1082.1 1192.7 1085 1176.4 C1085.9 1171.2 1088.7 1165.3 1092.1 1162.1 C1094 1160.3 1098.8 1162.8 1101.1 1161.2 C1104.2 1159.2 1105.9 1154.7 1108.2 1151.4 C1112.4 1145.5 1115.8 1138.8 1120.7 1133.6 C1124.2 1129.9 1128.7 1125.2 1133.2 1124.6 C1137.6 1124 1143.4 1127.2 1147.5 1130 C1152.9 1133.7 1157.9 1138.9 1161.8 1144.3 C1166.9 1151.4 1170.7 1159.5 1174.3 1167.5 C1179 1177.9 1183.1 1188.7 1186.8 1199.6 C1190.8 1211.4 1194.6 1223.3 1197.5 1235.4 C1201.1 1250.1 1204.6 1265 1206.4 1280 C1209.7 1308.2 1212.7 1365 1212.7 1365 C1212.7 1365 1215.5 1320.3 1217.1 1297.9 C1218.8 1274.1 1219.9 1250.1 1222.5 1226.4 C1223.5 1217.4 1224.9 1208 1227.9 1199.6 C1229.4 1195.4 1232.6 1190.7 1236 1188.5 C1238.1 1187.2 1242.2 1190.2 1244.3 1188.9 C1247.9 1186.8 1250.2 1181.7 1253.2 1178.2 C1257.3 1173.4 1260.7 1167.4 1265.7 1163.9 C1270.8 1160.3 1277.7 1156.5 1283.6 1156.8 C1289.6 1157.1 1296.4 1161.5 1301.4 1165.7 C1307.1 1170.5 1311.9 1177 1315.7 1183.6 C1320.8 1192.5 1324.7 1202.4 1328.2 1212.1 C1332.4 1223.8 1335.8 1235.8 1338.9 1247.9 C1342.4 1261.4 1346.1 1275.1 1347.9 1288.9 C1351.2 1314.1 1354.1 1365 1354.1 1365 C1354.1 1365 1356.3 1320.3 1357.7 1297.9 C1359 1277.1 1360 1256.2 1362.1 1235.4 C1363.3 1223.4 1364.3 1210.9 1367.5 1199.6 C1368.5 1196 1371.8 1191.7 1374.6 1190.7 C1376.6 1190 1379.4 1193.1 1381.8 1194.3 C1383.6 1195.2 1385.4 1197.4 1387.1 1197 C1390.2 1196.2 1392.9 1191.1 1396.1 1190.7 C1399.4 1190.2 1404 1192 1406.8 1194.3 C1411.8 1198.5 1416.1 1204.5 1419.3 1210.4 C1424.4 1219.9 1428.6 1230.3 1431.8 1240.7 C1435.7 1253.5 1439 1266.7 1440.7 1280 C1444.3 1308.1 1447.9 1365 1447.9 1365 C1447.9 1365 1450 1320.2 1451.4 1297.9 C1452.9 1274 1454.2 1250.1 1456.8 1226.4 C1457.7 1217.9 1459.1 1209 1462.1 1201.4 C1463.2 1198.6 1466.7 1195.3 1469.3 1195.2 C1472.1 1195 1475 1199.9 1478.2 1200.5 C1481 1201.1 1484.6 1197.7 1487.1 1198.8 C1491.2 1200.4 1494.1 1205.7 1497.9 1208.6 C1498.8 1209.3 1500.2 1209.2 1501.4 1209.5" stroke="#00ff00" stroke-width="13" fill="none" stroke-linejoin="round" />
<path d="M158 1363.9 C160.1 1362.1 163 1360.9 164.3 1358.6 C166.9 1353.8 168.5 1348 169.6 1342.5 C172 1330.7 173.4 1318.7 175 1306.8 C177 1291.9 178.6 1277 180.4 1262.1 C182.2 1247.2 183.8 1232.3 185.7 1217.5 C187 1207.3 190.2 1187.1 190.2 1187.1 C190.2 1187.1 193.5 1183.8 194.6 1181.8 C197.9 1176 200.2 1169.6 203.6 1163.9 C207.3 1157.7 211 1151.1 216.1 1146.1 C221.1 1141 227.7 1134.6 233.9 1133.6 C239 1132.8 245.6 1137.1 250 1140.7 C255.7 1145.4 260.3 1152.1 264.3 1158.6 C269.8 1167.6 274.5 1177.3 278.6 1187.1 C283.5 1198.7 287.4 1210.8 291.1 1222.9 C295.2 1236.4 298.9 1250.1 301.8 1263.9 C305.4 1281 308 1298.4 310.7 1315.7 C312.8 1329.4 313.2 1348.2 316.1 1356.8 C316.8 1358.9 320.5 1351.2 321.4 1347.9 C324.1 1337.5 325.2 1326.5 326.8 1315.7 C329.4 1297.9 331.1 1279.9 333.9 1262.1 C335.8 1250.1 338.3 1238.2 341.1 1226.4 C342.1 1222.1 345.5 1213.9 345.5 1213.9 C345.5 1213.9 351.9 1208.9 355.4 1206.8 C361.2 1203.3 366.9 1199.2 373.2 1197 C381.7 1194.1 391 1193.2 400 1191.6 C406.6 1190.5 413.3 1189.1 420 1188.9 C426 1188.8 432.4 1188.8 437.9 1190.7 C444.3 1192.9 450.6 1196.8 455.7 1201.4 C461.9 1207 467.3 1214 471.8 1221.1 C477.4 1230 482.2 1239.8 486.1 1249.6 C490.5 1260.6 493.9 1272.1 496.8 1283.6 C499.8 1295.3 501.6 1307.4 503.9 1319.3 C506.4 1332.4 507.7 1349.9 511.1 1358.6 C511.9 1360.6 515.5 1354.2 516.4 1351.4 C519.1 1342.9 520.3 1333.6 521.8 1324.6 C523.8 1312.7 525.5 1300.8 527.1 1288.9 C529.1 1274.1 530.7 1259.2 532.5 1244.3 C534.3 1230 537.9 1201.4 537.9 1201.4 C537.9 1201.4 543 1198.3 545 1196.1 C549 1191.7 551.2 1185.5 555.7 1181.8 C561.3 1177.2 568.6 1172.1 575.4 1171.1 C580.5 1170.3 587 1173.3 591.4 1176.4 C597.1 1180.4 601.9 1186.5 605.7 1192.5 C610.9 1200.8 614.7 1210.1 618.2 1219.3 C622.4 1230.3 626 1241.7 628.9 1253.2 C632.6 1267.9 635.6 1282.9 637.9 1297.9 C641 1318 641.5 1344.7 645 1358.6 C645.7 1361.3 649.4 1351.7 650.4 1347.9 C653 1337.4 654.1 1326.5 655.7 1315.7 C658.3 1297.9 660.8 1280 662.9 1262.1 C665 1244.3 666.7 1226.5 668.2 1208.6 C669.1 1198.5 670 1178.2 670 1178.2 C670 1178.2 674.7 1169.8 677.1 1165.7 C680.6 1159.7 683.9 1153.6 687.9 1147.9 C691.8 1142.3 695.6 1136 700.7 1131.8 C703.7 1129.3 708.5 1127.6 712.3 1127.9 C716.8 1128.2 722.4 1130.3 725.7 1133.6 C731.6 1139.4 736.2 1147.4 740 1155 C745.1 1165.2 749 1176.2 752.5 1187.1 C756.7 1200 760.1 1213.2 763.2 1226.4 C766.7 1241.2 769.6 1256.1 772.1 1271.1 C775 1288.8 776.9 1306.8 779.3 1324.6 C780.8 1335.3 781.4 1352.2 783.8 1356.8 C784.7 1358.7 788.1 1348.7 789.1 1344.3 C791.4 1333.8 792.3 1322.9 793.6 1312.1 C795.6 1295.5 797.2 1278.8 798.9 1262.1 C800.7 1244.3 802.7 1226.5 804.3 1208.6 C805.4 1196.1 807 1171.1 807 1171.1 C807 1171.1 810.4 1169.1 811.4 1167.5 C815.4 1161.3 817.9 1154 822.1 1147.9 C825.1 1143.6 828.7 1139.2 832.9 1136.2 C835.9 1134.1 840.1 1132.3 843.6 1132.7 C848.4 1133.2 854.1 1135.6 857.9 1138.9 C864.2 1144.2 869.4 1151.5 873.9 1158.6 C879.5 1167.5 884.1 1177.3 888.2 1187.1 C893.1 1198.7 897.2 1210.8 900.7 1222.9 C904.9 1237.6 908.3 1252.5 911.4 1267.5 C914.9 1284.7 917.6 1302 920.4 1319.3 C922.4 1331.8 923.1 1350.7 925.7 1356.8 C926.6 1359 930 1348.7 931.1 1344.3 C933.6 1333.8 934.8 1322.9 936.4 1312.1 C938.4 1298.5 940.3 1284.8 941.8 1271.1 C943.8 1253.3 945.3 1235.4 947.1 1217.5 C948.3 1205.6 950.7 1181.8 950.7 1181.8 C950.7 1181.8 954.5 1176 956.1 1172.9 C958.6 1168.2 960.8 1163.3 963.2 1158.6 C965.6 1153.8 967.8 1148.8 970.7 1144.3 C975.1 1137.5 979.1 1129.7 985 1124.6 C989.8 1120.5 997.1 1116.3 1002.9 1116.6 C1008.4 1116.9 1014.9 1121.8 1018.9 1126.4 C1025 1133.4 1029.3 1142.7 1033.2 1151.4 C1038.3 1162.9 1042 1175.1 1045.7 1187.1 C1049.7 1200.1 1053.3 1213.2 1056.4 1226.4 C1059.9 1241.2 1062.9 1256.1 1065.4 1271.1 C1068 1287.1 1069.6 1303.2 1071.6 1319.3 C1073.2 1331.8 1073.8 1351.3 1076.1 1356.8 C1077 1359 1080.5 1347.5 1081.4 1342.5 C1084.1 1327.8 1085.2 1312.8 1086.8 1297.9 C1088.7 1280.1 1090.3 1262.2 1092.1 1244.3 C1093.6 1229.4 1095.4 1214.5 1096.6 1199.6 C1097.5 1188.3 1098.4 1165.7 1098.4 1165.7 C1098.4 1165.7 1101.9 1163.7 1102.9 1162.1 C1106.4 1156.6 1108.4 1149.9 1111.8 1144.3 C1114.9 1139.2 1118.2 1133.9 1122.5 1130 C1125.4 1127.4 1129.6 1124.4 1133.2 1124.6 C1138.5 1125 1145 1128 1149.3 1131.8 C1155.8 1137.5 1161 1145.5 1165.4 1153.2 C1170.5 1162.2 1174.2 1172.1 1177.9 1181.8 C1182.6 1194.1 1186.7 1206.7 1190.4 1219.3 C1194.5 1233.4 1198.2 1247.7 1201.1 1262.1 C1204.7 1279.8 1207 1297.8 1210 1315.7 C1212.3 1329.4 1214 1349.6 1217.1 1356.8 C1218.1 1359.1 1221.4 1348.7 1222.5 1344.3 C1225 1333.8 1226.3 1322.9 1227.9 1312.1 C1229.9 1298.5 1231.5 1284.8 1233.2 1271.1 C1234.7 1259.1 1236.1 1247 1237.5 1235 C1238.6 1226.2 1239.5 1217.4 1240.7 1208.6 C1241.5 1202.9 1243.4 1191.6 1243.4 1191.6 C1243.4 1191.6 1246.8 1190.2 1247.9 1188.9 C1251.9 1184 1254.6 1177.9 1258.6 1172.9 C1262.3 1168.4 1266.3 1163.5 1271.1 1160.4 C1274.9 1157.9 1280 1155.9 1284.5 1155.9 C1289 1155.9 1294.2 1157.7 1297.9 1160.4 C1303.4 1164.5 1308.5 1170.3 1312.1 1176.4 C1318 1186.4 1322.4 1197.6 1326.4 1208.6 C1330.7 1220.2 1334.1 1232.2 1337.1 1244.3 C1340.7 1259 1343.6 1273.9 1346.1 1288.9 C1349 1306.7 1350.6 1324.7 1353.2 1342.5 C1353.9 1347.3 1354.4 1356.5 1355.9 1356.8 C1357.4 1357.1 1361.1 1348.8 1362.1 1344.3 C1364.9 1332.1 1365.9 1319.3 1367.5 1306.8 C1369.5 1291.9 1371.1 1277 1372.9 1262.1 C1374.7 1247.2 1376.2 1232.3 1378.2 1217.5 C1379.2 1210.3 1381.8 1196.1 1381.8 1196.1 C1381.8 1196.1 1385.5 1195.9 1387.1 1195.2 C1390.3 1193.8 1393 1189.9 1396.1 1189.8 C1399.5 1189.6 1404.1 1191.7 1406.8 1194.3 C1411.8 1199.1 1416.1 1205.7 1419.3 1212.1 C1424.4 1222.3 1428.7 1233.2 1431.8 1244.3 C1435.9 1258.8 1438.4 1273.9 1440.7 1288.9 C1443.4 1306.7 1444.7 1324.7 1447 1342.5 C1447.6 1347.3 1448.2 1356.5 1449.6 1356.8 C1450.9 1357.1 1454 1348.7 1455 1344.3 C1457.6 1332 1458.8 1319.3 1460.4 1306.8 C1462.3 1291.9 1463.7 1277 1465.7 1262.1 C1467.3 1250.2 1469.2 1238.3 1471.1 1226.4 C1472.5 1217.5 1475.5 1199.6 1475.5 1199.6 C1475.5 1199.6 1478.5 1200.6 1480 1200.5 C1482.4 1200.3 1485 1198.1 1487.1 1198.8 C1489.8 1199.6 1491.9 1202.9 1494.3 1205 C1496.4 1206.8 1498.4 1208.6 1500.5 1210.4" stroke="#000" stroke-width="5" fill="none" stroke-linejoin="round" />
<rect x="1075" y="1041" width="415" height="69" fill="#fff"/>
<line x1="1106" y1="1074.5" x2="1222" y2="1074.5" stroke="#00ff00" stroke-width="12.5"/>
<text x="1233.5" y="1084.5" font-size="45.5" text-anchor="start" style="font-family:'Liberation Serif', 'Times New Roman', serif;" fill="#000" >Ω</text>
<text x="1264" y="1090.5" font-size="31" text-anchor="start" style="font-family:'Liberation Serif', 'Times New Roman', serif;font-style:italic;" fill="#000" >d</text>
<line x1="1300" y1="1074.6" x2="1415.7" y2="1074.6" stroke="#000" stroke-width="5"/>
<text x="1427" y="1084.5" font-size="45.5" text-anchor="start" style="font-family:'Liberation Serif', 'Times New Roman', serif;" fill="#000" >Ω</text>
<text transform="translate(56,1200.4) rotate(-90)" font-size="44" text-anchor="middle" textLength="227" lengthAdjust="spacingAndGlyphs" style="font-family:'Liberation Serif',serif;font-style:italic" fill="#262626">(c) <tspan style="font-style:normal">Ω</tspan> [rad/s]</text>
<line x1="379" y1="1534" x2="379" y2="1868" stroke="#dedede" stroke-width="2"/>
<line x1="603" y1="1534" x2="603" y2="1868" stroke="#dedede" stroke-width="2"/>
<line x1="828" y1="1534" x2="828" y2="1868" stroke="#dedede" stroke-width="2"/>
<line x1="1052" y1="1534" x2="1052" y2="1868" stroke="#dedede" stroke-width="2"/>
<line x1="1276" y1="1534" x2="1276" y2="1868" stroke="#dedede" stroke-width="2"/>
<line x1="154" y1="1801" x2="1501" y2="1801" stroke="#dedede" stroke-width="2"/>
<line x1="154" y1="1734" x2="1501" y2="1734" stroke="#dedede" stroke-width="2"/>
<line x1="154" y1="1668" x2="1501" y2="1668" stroke="#dedede" stroke-width="2"/>
<line x1="154" y1="1601" x2="1501" y2="1601" stroke="#dedede" stroke-width="2"/>
<path d="M154 1868 V1854 M154 1534 V1548 M379 1868 V1854 M379 1534 V1548 M603 1868 V1854 M603 1534 V1548 M828 1868 V1854 M828 1534 V1548 M1052 1868 V1854 M1052 1534 V1548 M1276 1868 V1854 M1276 1534 V1548 M1501 1868 V1854 M1501 1534 V1548 M154 1868 H168 M1501 1868 H1487 M154 1801 H168 M1501 1801 H1487 M154 1734 H168 M1501 1734 H1487 M154 1668 H168 M1501 1668 H1487 M154 1601 H168 M1501 1601 H1487 M154 1534 H168 M1501 1534 H1487 M1501 1868 H1487 M1501 1831 H1487 M1501 1794 H1487 M1501 1757 H1487 M1501 1720 H1487 M1501 1683 H1487 M1501 1646 H1487 M1501 1609 H1487 M1501 1572 H1487" stroke="#000" stroke-width="2" fill="none"/>
<rect x="154" y="1534" width="1347" height="334" stroke="#000" stroke-width="2" fill="none"/>
<text x="137.2" y="1883.9" font-size="37.5" text-anchor="end" style="font-family:'Liberation Sans', Arial, sans-serif;" fill="#262626" >0</text>
<text x="137.2" y="1816.9" font-size="37.5" text-anchor="end" style="font-family:'Liberation Sans', Arial, sans-serif;" fill="#262626" >2</text>
<text x="137.2" y="1749.9" font-size="37.5" text-anchor="end" style="font-family:'Liberation Sans', Arial, sans-serif;" fill="#262626" >4</text>
<text x="137.2" y="1683.9" font-size="37.5" text-anchor="end" style="font-family:'Liberation Sans', Arial, sans-serif;" fill="#262626" >6</text>
<text x="137.2" y="1616.9" font-size="37.5" text-anchor="end" style="font-family:'Liberation Sans', Arial, sans-serif;" fill="#262626" >8</text>
<text x="137.2" y="1549.9" font-size="37.5" text-anchor="end" style="font-family:'Liberation Sans', Arial, sans-serif;" fill="#262626" >10</text>
<text x="1516.5" y="1883.9" font-size="37.5" text-anchor="start" style="font-family:'Liberation Sans', Arial, sans-serif;" fill="#262626" >0</text>
<text x="1516.5" y="1846.9" font-size="37.5" text-anchor="start" style="font-family:'Liberation Sans', Arial, sans-serif;" fill="#262626" >20</text>
<text x="1516.5" y="1809.9" font-size="37.5" text-anchor="start" style="font-family:'Liberation Sans', Arial, sans-serif;" fill="#262626" >40</text>
<text x="1516.5" y="1772.9" font-size="37.5" text-anchor="start" style="font-family:'Liberation Sans', Arial, sans-serif;" fill="#262626" >60</text>
<text x="1516.5" y="1735.9" font-size="37.5" text-anchor="start" style="font-family:'Liberation Sans', Arial, sans-serif;" fill="#262626" >80</text>
<text x="1516.5" y="1698.9" font-size="37.5" text-anchor="start" style="font-family:'Liberation Sans', Arial, sans-serif;" fill="#262626" >100</text>
<text x="1516.5" y="1661.9" font-size="37.5" text-anchor="start" style="font-family:'Liberation Sans', Arial, sans-serif;" fill="#262626" >120</text>
<text x="1516.5" y="1624.9" font-size="37.5" text-anchor="start" style="font-family:'Liberation Sans', Arial, sans-serif;" fill="#262626" >140</text>
<text x="1516.5" y="1587.9" font-size="37.5" text-anchor="start" style="font-family:'Liberation Sans', Arial, sans-serif;" fill="#262626" >160</text>
<text x="154" y="1924.3" font-size="37.5" text-anchor="middle" style="font-family:'Liberation Sans', Arial, sans-serif;" fill="#262626" >0</text>
<text x="379" y="1924.3" font-size="37.5" text-anchor="middle" style="font-family:'Liberation Sans', Arial, sans-serif;" fill="#262626" >5</text>
<text x="603" y="1924.3" font-size="37.5" text-anchor="middle" style="font-family:'Liberation Sans', Arial, sans-serif;" fill="#262626" >10</text>
<text x="828" y="1924.3" font-size="37.5" text-anchor="middle" style="font-family:'Liberation Sans', Arial, sans-serif;" fill="#262626" >15</text>
<text x="1052" y="1924.3" font-size="37.5" text-anchor="middle" style="font-family:'Liberation Sans', Arial, sans-serif;" fill="#262626" >20</text>
<text x="1276" y="1924.3" font-size="37.5" text-anchor="middle" style="font-family:'Liberation Sans', Arial, sans-serif;" fill="#262626" >25</text>
<text x="1501" y="1924.3" font-size="37.5" text-anchor="middle" style="font-family:'Liberation Sans', Arial, sans-serif;" fill="#262626" >30</text>
<text x="827.5" y="1977.4" font-size="42.5" text-anchor="middle" textLength="150" lengthAdjust="spacingAndGlyphs" style="font-family:'Liberation Serif',serif;font-style:italic" fill="#262626">Time [s]</text>
<path d="M158 1866.6 C158 1866.6 186 1866.6 186 1866.6 C186 1866.6 188.6 1860.1 191.1 1858.6 C194.5 1856.6 199.4 1856.7 203.6 1856.3 C215.5 1855.2 227.4 1854.4 239.3 1854.1 C254.2 1853.8 269 1854.7 283.9 1854.6 C288.1 1854.6 292.6 1854.9 296.4 1853.6 C299.2 1852.7 302 1850.4 303.6 1847.9 C305.8 1844.5 307 1840.1 307.6 1836 C309.7 1820.8 311.5 1790 311.5 1790 C311.5 1790 313.4 1708 313.4 1708 C313.4 1708 314.4 1708 314.4 1708 C314.4 1708 315.2 1866.6 315.2 1866.6 C315.2 1866.6 344.6 1866.6 344.6 1866.6 C344.6 1866.6 345.7 1859.7 348 1858.6 C352.3 1856.5 358.8 1857.1 364.3 1856.8 C376.2 1856.1 388.1 1855.8 400 1855.5 C410 1855.2 420 1855 430 1855 C447.5 1855 465.2 1856.4 482.5 1855.4 C486.8 1855.2 492.1 1854.2 495 1851.4 C498.7 1847.8 500.9 1841.5 502.1 1836 C504.7 1824.3 506.5 1800 506.5 1800 C506.5 1800 509.3 1663.3 509.3 1663.3 C509.3 1663.3 510.3 1663.3 510.3 1663.3 C510.3 1663.3 510.5 1866.6 510.5 1866.6 C510.5 1866.6 543.2 1866.6 543.2 1866.6 C543.2 1866.6 543.4 1858.5 546 1857.7 C555.9 1854.9 569.1 1856.3 580.7 1855.9 C595.6 1855.4 612 1858 625.4 1855 C629.3 1854.1 631.1 1848.3 632.5 1844.3 C635.2 1836.6 637.5 1820 637.5 1820 C637.5 1820 643.3 1670.5 643.3 1670.5 C643.3 1670.5 644.3 1670.5 644.3 1670.5 C644.3 1670.5 645 1866.6 645 1866.6 C645 1866.6 671.8 1866.6 671.8 1866.6 C671.8 1866.6 672.1 1858.8 674.6 1857.7 C681.5 1854.6 691.5 1854.8 700 1854.1 C702.6 1853.9 705.3 1855 707.9 1855 C725.7 1855 744.7 1857 761.4 1854.1 C765.5 1853.4 768.7 1848.3 770.4 1844.3 C773.6 1836.9 776 1820 776 1820 C776 1820 780.9 1704.4 780.9 1704.4 C780.9 1704.4 781.9 1704.4 781.9 1704.4 C781.9 1704.4 782.9 1866.6 782.9 1866.6 C782.9 1866.6 807.9 1866.6 807.9 1866.6 C807.9 1866.6 808.4 1857.7 811.4 1856.8 C822.7 1853.5 837.6 1854.5 850.7 1854.1 C868.5 1853.6 888.3 1857.5 904.3 1854.1 C909.1 1853.1 911.5 1845.7 913.2 1840.7 C916 1832.6 918 1815 918 1815 C918 1815 922.9 1697.2 922.9 1697.2 C922.9 1697.2 923.9 1697.2 923.9 1697.2 C923.9 1697.2 924.8 1866.6 924.8 1866.6 C924.8 1866.6 950.7 1866.6 950.7 1866.6 C950.7 1866.6 951.8 1858.5 954.3 1856.8 C958.2 1854.2 964.8 1854.2 970 1853.8 C972.6 1853.6 975.2 1855 977.9 1855 C989.8 1854.8 1001.7 1853.4 1013.6 1853.2 C1026.7 1853 1040 1854.6 1052.9 1853.6 C1056.1 1853.4 1060.2 1852.1 1061.8 1849.6 C1064.4 1845.4 1064.6 1839 1065.4 1833.6 C1067 1822.5 1069 1800 1069 1800 C1069 1800 1073.8 1645.4 1073.8 1645.4 C1073.8 1645.4 1074.8 1645.4 1074.8 1645.4 C1074.8 1645.4 1076.1 1866.6 1076.1 1866.6 C1076.1 1866.6 1099.3 1866.6 1099.3 1866.6 C1099.3 1866.6 1099.9 1857.7 1102.9 1856.8 C1113 1853.6 1126.7 1854.5 1138.6 1854.1 C1156.4 1853.6 1175.3 1856.7 1192.1 1854.1 C1196.7 1853.4 1201.1 1848.6 1202.9 1844.3 C1206.7 1835.5 1209 1815 1209 1815 C1209 1815 1214.9 1693.6 1214.9 1693.6 C1214.9 1693.6 1215.9 1693.6 1215.9 1693.6 C1215.9 1693.6 1217.1 1866.6 1217.1 1866.6 C1217.1 1866.6 1240.7 1866.6 1240.7 1866.6 C1240.7 1866.6 1241.7 1858.8 1244.3 1857.7 C1250.1 1855.2 1258.6 1856.4 1265.7 1855.9 C1277.6 1855.2 1289.5 1854.6 1301.4 1854.1 C1312.1 1853.7 1323.7 1855.5 1333.6 1853.2 C1337.4 1852.3 1341.1 1848.1 1342.5 1844.3 C1345.9 1835.3 1348 1815 1348 1815 C1348 1815 1353.1 1658.8 1353.1 1658.8 C1353.1 1658.8 1354.1 1658.8 1354.1 1658.8 C1354.1 1658.8 1355 1866.6 1355 1866.6 C1355 1866.6 1381.8 1866.6 1381.8 1866.6 C1381.8 1866.6 1381.2 1858.6 1383.6 1857.7 C1390.2 1855.1 1400.3 1857 1408.6 1855.9 C1416.4 1854.9 1425.3 1854.7 1431.8 1851.4 C1435.4 1849.6 1437.7 1844.7 1438.9 1840.7 C1441.4 1832.6 1443 1815 1443 1815 C1443 1815 1447.4 1634.7 1447.4 1634.7 C1447.4 1634.7 1448.4 1634.7 1448.4 1634.7 C1448.4 1634.7 1449.6 1866.6 1449.6 1866.6 C1449.6 1866.6 1474.6 1866.6 1474.6 1866.6 C1474.6 1866.6 1474 1858.7 1476.4 1857.7 C1482.7 1855.1 1492.5 1856.5 1500.5 1855.9" stroke="#00ff00" stroke-width="13" fill="none" stroke-linejoin="round" />
<path d="M158 1866.6 C158 1866.6 191.1 1866.6 191.1 1866.6 C191.1 1866.6 191.6 1775.7 191.6 1775.7 C191.6 1775.7 195.5 1786.4 195.5 1786.4 C195.5 1786.4 198.4 1778.2 199.2 1773.9 C200.6 1766.6 201.1 1759 202.3 1751.6 C203.3 1745.6 204.6 1739.7 205.9 1733.8 C207 1728.7 208.1 1723.6 209.5 1718.6 C210.8 1713.8 212.4 1709.1 213.9 1704.3 C215.4 1699.5 216.7 1694.7 218.4 1690 C219.7 1686.4 221.2 1682.8 222.9 1679.3 C224.5 1676 226.2 1672.6 228.2 1669.5 C229.7 1667.2 231.4 1664.8 233.6 1663.2 C235.3 1661.9 237.8 1660.9 239.8 1661 C241.9 1661.1 244.4 1662.3 246.1 1663.7 C248.2 1665.4 249.9 1668 251.4 1670.4 C253.4 1673.5 255.3 1676.8 256.8 1680.2 C258.9 1684.8 260.5 1689.7 262.1 1694.5 C264 1700.1 265.9 1705.7 267.5 1711.4 C269.2 1717.3 270.4 1723.3 272 1729.3 C273.4 1734.7 274.9 1740 276.4 1745.4 C277.9 1750.7 279.3 1756.1 280.9 1761.4 C282.3 1766.2 283.9 1770.9 285.4 1775.7 C286.9 1780.5 288.4 1785.2 289.8 1790 C291.4 1795.3 293 1800.6 294.5 1806 C297 1815.2 298.5 1824.7 301.8 1833.6 C303.9 1839.3 308.4 1844 310.7 1849.6 C312.9 1855 315.2 1866.6 315.2 1866.6 C315.2 1866.6 344.6 1866.6 344.6 1866.6 C344.6 1866.6 346.4 1805 346.4 1805 C346.4 1805 349.1 1817.5 349.1 1817.5 C349.1 1817.5 356.6 1808.9 360.7 1805 C364.6 1801.2 368.5 1797 373.2 1794.3 C378.7 1791.1 385 1789.2 391.1 1787.1 C396.9 1785.1 402.8 1783 408.9 1781.8 C418.4 1780 428.3 1778.2 437.9 1778.2 C442.7 1778.2 448.1 1779.4 452.1 1781.8 C457 1784.7 460.9 1789.8 464.6 1794.3 C469.2 1799.9 473 1806.1 477.1 1812.1 C481.9 1819.2 486.5 1826.5 491.4 1833.6 C494.8 1838.5 498.9 1842.9 502.1 1847.9 C504.3 1851.2 505.9 1854.9 507.5 1858.6 C508.6 1861.2 510.2 1866.6 510.2 1866.6 C510.2 1866.6 541.4 1866.6 541.4 1866.6 C541.4 1866.6 541.4 1788.9 541.4 1788.9 C541.4 1788.9 545 1799.6 545 1799.6 C545 1799.6 547.1 1791.1 548.6 1787.1 C551.8 1778.6 555 1770 559.3 1762.1 C562.7 1755.8 566.7 1749 571.8 1744.3 C574.2 1742.1 578.4 1741.3 581.6 1741.6 C585 1741.9 588.8 1743.7 591.4 1746.1 C595.7 1750 599.2 1755.3 602.1 1760.4 C606.3 1767.8 609.4 1775.8 612.9 1783.6 C616.6 1791.9 619.9 1800.3 623.6 1808.6 C627.1 1816.4 630.8 1824 634.3 1831.8 C636.7 1837.1 639.7 1842.3 641.4 1847.9 C643.3 1853.9 645 1866.6 645 1866.6 C645 1866.6 670.9 1866.6 670.9 1866.6 C670.9 1866.6 671.8 1758.6 671.8 1758.6 C671.8 1758.6 675.4 1772.9 675.4 1772.9 C675.4 1772.9 679.2 1759.8 680.7 1753.2 C683.4 1741.4 685.3 1729.4 687.9 1717.5 C690.1 1707.3 692.1 1697.1 695 1687.1 C698.2 1676.2 700.9 1664.7 706.1 1655 C708.2 1651 713.2 1646.1 716.8 1646.1 C720.4 1646.1 725 1651.2 727.5 1655 C731.6 1661.3 734 1669.1 736.4 1676.4 C739.9 1687 742.6 1697.8 745.4 1708.6 C748.5 1720.5 751.3 1732.4 754.3 1744.3 C757.3 1756.2 760.2 1768.1 763.2 1780 C766.2 1791.9 769.1 1803.8 772.1 1815.7 C774.5 1825.2 777.3 1834.7 779.3 1844.3 C780.9 1851.7 782.9 1866.6 782.9 1866.6 C782.9 1866.6 807 1866.6 807 1866.6 C807 1866.6 807.9 1740.7 807.9 1740.7 C807.9 1740.7 811.4 1760.4 811.4 1760.4 C811.4 1760.4 813.9 1749.7 815 1744.3 C817.5 1732.4 819.2 1720.4 822.1 1708.6 C824.5 1698.9 827.3 1689.2 831.1 1680 C833.2 1674.9 836.4 1669.9 840 1665.7 C842 1663.3 845.4 1660.1 848 1660.4 C851.3 1660.7 855.7 1664.2 857.9 1667.5 C862.5 1674.3 865.7 1682.7 868.6 1690.7 C872.8 1702.3 876 1714.4 879.3 1726.4 C883.1 1740 886.4 1753.8 890 1767.5 C893.5 1780.6 896.5 1793.9 900.7 1806.8 C903.7 1815.9 907.3 1825 911.4 1833.6 C913.8 1838.7 918.3 1842.8 920.4 1847.9 C922.8 1853.8 924.8 1866.6 924.8 1866.6 C924.8 1866.6 951.6 1866.6 951.6 1866.6 C951.6 1866.6 952.5 1762.1 952.5 1762.1 C952.5 1762.1 956.1 1776.4 956.1 1776.4 C956.1 1776.4 959.7 1761 961.4 1753.2 C964 1741.3 966.5 1729.4 968.9 1717.5 C972 1702.6 974.3 1687.6 977.9 1672.9 C980.3 1663.2 983.4 1653.7 986.8 1644.3 C989.9 1635.8 992.8 1626.7 997.5 1619.3 C999.6 1616 1004.2 1611.8 1007.3 1612.1 C1010.7 1612.4 1014.8 1617.4 1017.1 1621.1 C1021.7 1628.7 1025.3 1637.4 1027.9 1646.1 C1031.9 1659.4 1033.9 1673.4 1036.8 1687.1 C1039.8 1701.4 1042.8 1715.7 1045.7 1730 C1048.8 1745.4 1051.2 1761 1054.6 1776.4 C1057.2 1788.4 1060.5 1800.2 1063.6 1812.1 C1065.8 1820.5 1068.9 1828.6 1070.7 1837.1 C1072.8 1846.8 1075.2 1866.6 1075.2 1866.6 C1075.2 1866.6 1099.3 1866.6 1099.3 1866.6 C1099.3 1866.6 1100.2 1728.2 1100.2 1728.2 C1100.2 1728.2 1103.8 1749.6 1103.8 1749.6 C1103.8 1749.6 1106.7 1734.1 1108.2 1726.4 C1110.6 1714.5 1112.6 1702.5 1115.4 1690.7 C1118 1679.9 1120.5 1669 1124.3 1658.6 C1126.4 1652.9 1129.7 1647.4 1133.2 1642.5 C1134.4 1640.8 1136.8 1638.5 1138.6 1638.9 C1142.2 1639.7 1146.9 1642.8 1149.3 1646.1 C1153.4 1651.7 1155.9 1658.9 1158.2 1665.7 C1161.9 1676.7 1164.2 1688.3 1167.1 1699.6 C1170.2 1711.5 1173.1 1723.5 1176.1 1735.4 C1179.1 1747.3 1181.9 1759.2 1185 1771.1 C1187.8 1781.8 1190.5 1792.6 1193.9 1803.2 C1196.5 1811.1 1199.8 1818.7 1202.9 1826.4 C1205.1 1831.8 1208.2 1837 1210 1842.5 C1212.6 1850.4 1216.2 1866.6 1216.2 1866.6 C1216.2 1866.6 1244.3 1866.6 1244.3 1866.6 C1244.3 1866.6 1245.2 1778.2 1245.2 1778.2 C1245.2 1778.2 1248.8 1792.5 1248.8 1792.5 C1248.8 1792.5 1251.5 1781.7 1253.2 1776.4 C1255.9 1768 1258.8 1759.6 1262.1 1751.4 C1265.3 1743.5 1268.6 1735.5 1272.9 1728.2 C1275.2 1724.2 1278.3 1720.1 1281.8 1717.5 C1283.9 1716 1287.3 1715.2 1289.8 1715.7 C1293.2 1716.4 1297 1718.6 1299.6 1721.1 C1303.2 1724.6 1306.2 1729.1 1308.6 1733.6 C1312.8 1741.6 1316 1750.2 1319.3 1758.6 C1323.2 1768.6 1326.4 1778.8 1330 1788.9 C1333.6 1799 1336.9 1809.3 1340.7 1819.3 C1343.4 1826.5 1347.5 1833.3 1349.6 1840.7 C1352 1849.1 1354.1 1866.6 1354.1 1866.6 C1354.1 1866.6 1382.7 1866.6 1382.7 1866.6 C1382.7 1866.6 1383.2 1778.2 1383.2 1778.2 C1383.2 1778.2 1387.1 1796.1 1387.1 1796.1 C1387.1 1796.1 1391.3 1787.3 1394.3 1783.6 C1396.7 1780.7 1400.1 1776.4 1403.2 1776.4 C1406.7 1776.4 1411.3 1780.3 1413.9 1783.6 C1418.4 1789.3 1421.3 1796.6 1424.6 1803.2 C1428.4 1810.8 1431.7 1818.7 1435.4 1826.4 C1438.3 1832.4 1442.2 1838 1444.3 1844.3 C1446.7 1851.4 1448.8 1866.6 1448.8 1866.6 C1448.8 1866.6 1477.3 1866.6 1477.3 1866.6 C1477.3 1866.6 1477.9 1783.6 1477.9 1783.6 C1477.9 1783.6 1480.9 1801.4 1480.9 1801.4 C1480.9 1801.4 1484.6 1796.1 1487.1 1794.3 C1489.1 1792.8 1491.8 1791.9 1494.3 1791.6 C1496.6 1791.3 1499 1792.2 1501.4 1792.5" stroke="#000" stroke-width="5" fill="none" stroke-linejoin="round" />
<rect x="172.5" y="1556" width="205.5" height="94" fill="#fff"/>
<rect x="384" y="1556" width="205.6" height="94" fill="#fff"/>
<line x1="197" y1="1606.9" x2="313.9" y2="1606.9" stroke="#00ff00" stroke-width="12.5"/>
<text x="324" y="1613.9" font-size="46" text-anchor="start" style="font-family:'Liberation Serif', 'Times New Roman', serif;font-style:italic;" fill="#000" >b</text>
<text x="347" y="1633" font-size="34" text-anchor="start" style="font-family:'Liberation Serif', 'Times New Roman', serif;font-style:italic;" fill="#000" >g</text>
<line x1="408.9" y1="1612.5" x2="525" y2="1612.5" stroke="#000" stroke-width="5"/>
<text x="535.5" y="1617.9" font-size="42" text-anchor="start" style="font-family:'Liberation Serif', 'Times New Roman', serif;font-style:italic;" fill="#000" >P</text>
<text x="564" y="1639" font-size="34" text-anchor="start" style="font-family:'Liberation Serif', 'Times New Roman', serif;font-style:italic;" fill="#000" >t</text>
<text transform="translate(56,1702.1) rotate(-90)" font-size="44" text-anchor="middle" textLength="251" lengthAdjust="spacingAndGlyphs" style="font-family:'Liberation Serif',serif;font-style:italic" fill="#262626">(d) b<tspan dx="2" dy="21" font-size="32">g</tspan><tspan dx="6" dy="-21"> [N m/s]</tspan></text>
<text transform="translate(1633,1701.5) rotate(-90)" font-size="44" text-anchor="middle" textLength="143" lengthAdjust="spacingAndGlyphs" style="font-family:'Liberation Serif',serif;font-style:italic" fill="#262626">P<tspan dx="2" dy="21" font-size="32">t</tspan><tspan dx="6" dy="-21"> [kW]</tspan></text>
<line x1="379" y1="2036" x2="379" y2="2366" stroke="#dedede" stroke-width="2"/>
<line x1="603" y1="2036" x2="603" y2="2366" stroke="#dedede" stroke-width="2"/>
<line x1="828" y1="2036" x2="828" y2="2366" stroke="#dedede" stroke-width="2"/>
<line x1="1052" y1="2036" x2="1052" y2="2366" stroke="#dedede" stroke-width="2"/>
<line x1="1276" y1="2036" x2="1276" y2="2366" stroke="#dedede" stroke-width="2"/>
<line x1="154" y1="2256" x2="1501" y2="2256" stroke="#dedede" stroke-width="2"/>
<line x1="154" y1="2146" x2="1501" y2="2146" stroke="#dedede" stroke-width="2"/>
<path d="M154 2366 V2352 M154 2036 V2050 M379 2366 V2352 M379 2036 V2050 M603 2366 V2352 M603 2036 V2050 M828 2366 V2352 M828 2036 V2050 M1052 2366 V2352 M1052 2036 V2050 M1276 2366 V2352 M1276 2036 V2050 M1501 2366 V2352 M1501 2036 V2050 M154 2366 H168 M1501 2366 H1487 M154 2256 H168 M1501 2256 H1487 M154 2146 H168 M1501 2146 H1487 M154 2036 H168 M1501 2036 H1487" stroke="#111" stroke-width="2" fill="none"/>
<rect x="154" y="2036" width="1347" height="330" stroke="#111" stroke-width="2" fill="none"/>
<text x="137.2" y="2381.9" font-size="37.5" text-anchor="end" style="font-family:'Liberation Sans', Arial, sans-serif;" fill="#262626" >0.2</text>
<text x="137.2" y="2271.9" font-size="37.5" text-anchor="end" style="font-family:'Liberation Sans', Arial, sans-serif;" fill="#262626" >0.3</text>
<text x="137.2" y="2161.9" font-size="37.5" text-anchor="end" style="font-family:'Liberation Sans', Arial, sans-serif;" fill="#262626" >0.4</text>
<text x="137.2" y="2051.9" font-size="37.5" text-anchor="end" style="font-family:'Liberation Sans', Arial, sans-serif;" fill="#262626" >0.5</text>
<text x="154" y="2422.3" font-size="37.5" text-anchor="middle" style="font-family:'Liberation Sans', Arial, sans-serif;" fill="#262626" >0</text>
<text x="379" y="2422.3" font-size="37.5" text-anchor="middle" style="font-family:'Liberation Sans', Arial, sans-serif;" fill="#262626" >5</text>
<text x="603" y="2422.3" font-size="37.5" text-anchor="middle" style="font-family:'Liberation Sans', Arial, sans-serif;" fill="#262626" >10</text>
<text x="828" y="2422.3" font-size="37.5" text-anchor="middle" style="font-family:'Liberation Sans', Arial, sans-serif;" fill="#262626" >15</text>
<text x="1052" y="2422.3" font-size="37.5" text-anchor="middle" style="font-family:'Liberation Sans', Arial, sans-serif;" fill="#262626" >20</text>
<text x="1276" y="2422.3" font-size="37.5" text-anchor="middle" style="font-family:'Liberation Sans', Arial, sans-serif;" fill="#262626" >25</text>
<text x="1501" y="2422.3" font-size="37.5" text-anchor="middle" style="font-family:'Liberation Sans', Arial, sans-serif;" fill="#262626" >30</text>
<text x="827.5" y="2475.4" font-size="42.5" text-anchor="middle" textLength="150" lengthAdjust="spacingAndGlyphs" style="font-family:'Liberation Serif',serif;font-style:italic" fill="#262626">Time [s]</text>
<clipPath id="clipe"><rect x="154" y="2036" width="1347" height="330"/></clipPath>
<line x1="158" y1="2112.4" x2="1501" y2="2112.4" stroke="#00ff00" stroke-width="13"/>
<path d="M172.6 2395 C172.6 2395 172.9 2375.5 173.2 2365.7 C173.7 2349 174.4 2332.4 175 2315.7 C175.6 2297.8 176.2 2280 176.8 2262.1 C177.4 2244.3 177.9 2226.4 178.6 2208.6 C179.1 2196.7 179.6 2184.8 180.4 2172.9 C181.1 2162.2 181.9 2151.4 183 2140.7 C183.7 2133.5 184.3 2126.3 185.7 2119.3 C186.3 2116.4 187.3 2113.2 189 2111 C190.1 2109.6 192.2 2108.9 194 2108.6 C197.1 2108.1 200.4 2108.6 203.6 2108.6 C221.4 2108.7 239.3 2108.6 257.1 2108.9 C270.2 2109.2 283.4 2109.5 296.4 2110.4 C298.3 2110.5 300.4 2111.1 302 2112 C303.4 2112.8 304.8 2114.2 305.4 2115.7 C307.1 2120.2 308.4 2125.1 308.9 2130 C310.1 2141.2 310.4 2152.6 310.7 2163.9 C311.3 2181.8 311.5 2199.6 311.6 2217.5 C312 2276.7 312.2 2395 312.2 2395 C312.2 2395 314.2 2395 314.2 2395 C314.2 2395 314.8 2218.4 314.8 2218.4 C314.8 2218.4 316.2 2395 316.2 2395 C316.2 2395 326.2 2395 326.2 2395 C326.2 2395 326.5 2375.5 326.8 2365.7 C327.3 2349 328 2332.4 328.6 2315.7 C329.2 2297.8 329.8 2280 330.4 2262.1 C331 2244.3 331.2 2226.4 332.1 2208.6 C332.7 2196.7 333.9 2184.8 334.8 2172.9 C335.7 2162.2 336.2 2151.4 337.5 2140.7 C338.3 2133.5 339.5 2126.3 341.1 2119.3 C341.7 2116.6 342.5 2113.6 344 2111.5 C344.8 2110.4 346.5 2109.5 348 2109.5 C375.2 2108.6 402.7 2108.4 430 2108.6 C450.8 2108.7 471.7 2109.2 492.3 2110.4 C494.2 2110.5 496 2111.5 497.5 2112.5 C498.7 2113.3 500.1 2114.3 500.4 2115.7 C501.9 2122.5 502.5 2129.9 503 2137.1 C504.1 2154.9 504.8 2172.8 505.2 2190.7 C506 2227.1 506.2 2263.6 506.6 2300 C506.9 2331.7 507.2 2395 507.2 2395 C507.2 2395 508.6 2395 508.6 2395 C508.6 2395 509.7 2122.4 509.7 2122.4 C509.7 2122.4 511.8 2395 511.8 2395 C511.8 2395 521.3 2395 521.3 2395 C521.3 2395 521.5 2374.9 521.8 2364.9 C522.5 2342.6 523.7 2320.2 524.5 2297.9 C525.5 2271.1 526 2244.3 527.1 2217.5 C527.8 2199.6 528.4 2181.7 529.8 2163.9 C530.6 2153.2 532.4 2142.5 533.8 2131.8 C534.5 2126.9 534.9 2121.8 536 2117 C536.5 2114.9 537.1 2112.5 538.5 2111 C539.5 2109.9 541.5 2109.3 543.2 2109.3 C570.8 2108.9 598.7 2109.1 626.3 2109.6 C627.9 2109.6 629.6 2110.3 631 2111 C632.2 2111.6 634 2112.2 634.3 2113.5 C636 2120.9 636.6 2129.2 637 2137.1 C638.2 2163.9 638.6 2190.7 639.1 2217.5 C639.6 2245 639.8 2272.5 640 2300 C640.2 2331.7 640.4 2395 640.4 2395 C640.4 2395 642.9 2395 642.9 2395 C642.9 2395 643.7 2119.7 643.7 2119.7 C643.7 2119.7 645.2 2395 645.2 2395 C645.2 2395 654.8 2395 654.8 2395 C654.8 2395 654.9 2374.9 655.2 2364.9 C656 2333.6 656.8 2302.3 657.9 2271 C658.8 2244.2 659.7 2217.4 661.1 2190.7 C662.1 2172.8 663.5 2154.9 665.1 2137.1 C665.8 2130 666.6 2122.9 668 2116 C668.4 2114 669.2 2111.6 670.5 2110.4 C671.5 2109.5 673.5 2109.6 675 2109.6 C705.2 2109.3 735.5 2109.2 765.6 2109.6 C767.1 2109.6 768.8 2110.1 770 2111 C771.5 2112.1 773.3 2113.8 773.6 2115.7 C775.9 2131.4 776.9 2147.8 777.6 2163.9 C778.7 2189.8 778.6 2215.7 779 2241.6 C779.3 2261.1 779.6 2280.5 779.8 2300 C780.1 2331.7 780.3 2395 780.3 2395 C780.3 2395 781 2395 781 2395 C781 2395 781.6 2244.3 781.6 2244.3 C781.6 2244.3 784.3 2395 784.3 2395 C784.3 2395 791.9 2395 791.9 2395 C791.9 2395 792 2374.9 792.3 2364.9 C793.1 2333.6 794 2302.3 795 2271 C795.8 2244.2 796.4 2217.4 797.7 2190.7 C798.6 2172.8 800.1 2154.9 801.7 2137.1 C802.3 2130 803.1 2122.9 804.5 2116 C804.9 2114 805.7 2111.6 807.1 2110.4 C808.2 2109.4 810.3 2109.6 812 2109.6 C843 2109.3 874.1 2109.2 905 2109.6 C906.7 2109.6 908.4 2110.3 910 2111 C911.1 2111.5 912.6 2111.9 913 2113 C915.4 2118.9 917.7 2125.3 918.4 2131.8 C920.4 2151.2 920.5 2171.1 921.1 2190.7 C921.8 2214.8 922.2 2238.9 922.4 2263 C922.9 2307 923.2 2395 923.2 2395 C923.2 2395 924.6 2395 924.6 2395 C924.6 2395 925.6 2265.7 925.6 2265.7 C925.6 2265.7 926.8 2395 926.8 2395 C926.8 2395 935.4 2395 935.4 2395 C935.4 2395 935.6 2374.9 935.8 2364.9 C936.2 2342.6 936.6 2320.2 937.2 2297.9 C937.9 2271.1 938.7 2244.3 939.8 2217.5 C940.5 2199.6 941.2 2181.7 942.5 2163.9 C943.4 2151.4 944.9 2138.9 946.5 2126.4 C947.1 2121.9 947.6 2117.2 949 2113 C949.4 2111.6 950.7 2110.2 951.9 2109.6 C953 2109 954.6 2109.3 956 2109.3 C989.9 2109.3 1023.9 2109.1 1057.7 2109.6 C1059.2 2109.6 1060.7 2110.3 1062 2111 C1063 2111.6 1064.2 2112.4 1064.4 2113.5 C1066.1 2121.1 1067.6 2129.2 1067.9 2137.1 C1069.4 2175.4 1069.4 2213.9 1069.8 2252.3 C1070.2 2299.9 1070.3 2395 1070.3 2395 C1070.3 2395 1072.4 2395 1072.4 2395 C1072.4 2395 1073.6 2109.5 1073.6 2109.5 C1073.6 2109.5 1075 2395 1075 2395 C1075 2395 1086.8 2395 1086.8 2395 C1086.8 2395 1087.1 2375 1087.2 2365 C1087.6 2327.4 1087.6 2289.9 1088.5 2252.3 C1089 2231.8 1090 2211.2 1091.2 2190.7 C1092.2 2172.8 1093.7 2155 1095.2 2137.1 C1095.8 2129.7 1096.4 2122.3 1097.5 2115 C1097.8 2113.2 1098.1 2110.9 1099.2 2109.9 C1100.2 2109 1102.4 2109.3 1104 2109.3 C1135.9 2109.2 1167.9 2108.9 1199.7 2109.6 C1201.3 2109.6 1202.8 2110.6 1204 2111.5 C1205 2112.2 1206.1 2113.2 1206.4 2114.4 C1208.2 2121.7 1210.1 2129.4 1210.4 2137.1 C1211.9 2175.4 1211.4 2213.9 1211.7 2252.3 C1212.1 2299.9 1212.3 2395 1212.3 2395 C1212.3 2395 1213.8 2395 1213.8 2395 C1213.8 2395 1215.2 2137.1 1215.2 2137.1 C1215.2 2137.1 1216.8 2395 1216.8 2395 C1216.8 2395 1228.7 2395 1228.7 2395 C1228.7 2395 1229 2375 1229.1 2365 C1229.6 2328.2 1229.6 2291.3 1230.6 2254.5 C1231.1 2234.1 1232.6 2213.7 1233.7 2193.3 C1234.6 2176.3 1235.4 2159.2 1236.7 2142.2 C1237.4 2133.3 1238.4 2124.4 1239.8 2115.7 C1240.1 2113.7 1240.9 2111.5 1242 2110 C1242.6 2109.2 1243.9 2108.8 1244.9 2108.6 C1246.5 2108.3 1248.3 2108.6 1250 2108.6 C1279.6 2108.9 1309.3 2108.8 1338.8 2109.6 C1340 2109.6 1341 2110.4 1342 2111 C1343.1 2111.7 1344.4 2112.5 1344.9 2113.7 C1346.4 2117.5 1347.6 2121.7 1348 2125.9 C1349.3 2141.5 1349.6 2157.2 1350 2172.9 C1350.6 2200.1 1350.8 2227.3 1351 2254.5 C1351.3 2301.3 1351.5 2395 1351.5 2395 C1351.5 2395 1352.3 2395 1352.3 2395 C1352.3 2395 1353.5 2128 1353.5 2128 C1353.5 2128 1355.8 2395 1355.8 2395 C1355.8 2395 1364.6 2395 1364.6 2395 C1364.6 2395 1364.6 2331.6 1365.5 2300 C1365.9 2284.8 1367.6 2269.7 1368.4 2254.5 C1369.5 2234.1 1370.1 2213.7 1371.4 2193.3 C1372.5 2176.2 1373.7 2159.2 1375.5 2142.2 C1376.4 2133.3 1377.8 2124.4 1379.6 2115.7 C1380 2113.8 1380.9 2112 1382 2110.5 C1382.6 2109.6 1383.7 2108.8 1384.7 2108.6 C1386.3 2108.2 1388.2 2108.5 1390 2108.6 C1404.2 2109.2 1418.6 2109.6 1432.7 2110.6 C1433.9 2110.7 1435 2111.3 1436 2112 C1437.1 2112.7 1438.4 2113.5 1438.8 2114.7 C1440.4 2120.2 1441.3 2126.2 1441.8 2132 C1443 2146.9 1443.6 2162 1443.9 2177 C1444.5 2204.7 1444.5 2232.3 1444.6 2260 C1444.8 2305 1445 2395 1445 2395 C1445 2395 1446.3 2395 1446.3 2395 C1446.3 2395 1447.3 2109.6 1447.3 2109.6 C1447.3 2109.6 1449.3 2395 1449.3 2395 C1449.3 2395 1459.8 2395 1459.8 2395 C1459.8 2395 1460 2374.8 1460.2 2364.7 C1460.8 2328 1461.1 2291.2 1462.2 2254.5 C1462.8 2234.1 1464 2213.7 1465.3 2193.3 C1466.4 2176.2 1467.6 2159.2 1469.4 2142.2 C1470.3 2133.3 1471.7 2124.4 1473.5 2115.7 C1473.9 2113.7 1474.8 2111.6 1476 2110 C1476.5 2109.2 1477.7 2108.7 1478.6 2108.6 C1480.7 2108.3 1482.9 2108.6 1485 2108.6 C1490.3 2108.6 1495.7 2108.6 1501 2108.6" stroke="#000" stroke-width="5" fill="none" stroke-linejoin="round" clip-path="url(#clipe)"/>
<rect x="996" y="2254.5" width="460" height="74.5" fill="#fff"/>
<line x1="1020" y1="2290.8" x2="1137" y2="2290.8" stroke="#00ff00" stroke-width="12"/>
<text x="1148" y="2301" font-size="46" style="font-family:'Liberation Serif',serif;font-style:italic" fill="#000">η<tspan font-size="33" dy="7" letter-spacing="1.5">t,max</tspan></text>
<line x1="1276.8" y1="2290.8" x2="1394.7" y2="2290.8" stroke="#000" stroke-width="4.5"/>
<text x="1406" y="2301" font-size="46" style="font-family:'Liberation Serif',serif;font-style:italic" fill="#000">η<tspan font-size="32" dy="7">t</tspan></text>
<text transform="translate(45,2202.3) rotate(-90)" font-size="44" text-anchor="middle" textLength="93" lengthAdjust="spacingAndGlyphs" style="font-family:'Liberation Serif',serif;font-style:italic" fill="#262626">(e) η<tspan dx="1" dy="20" font-size="30">t</tspan></text>
</svg>
</body></html>
